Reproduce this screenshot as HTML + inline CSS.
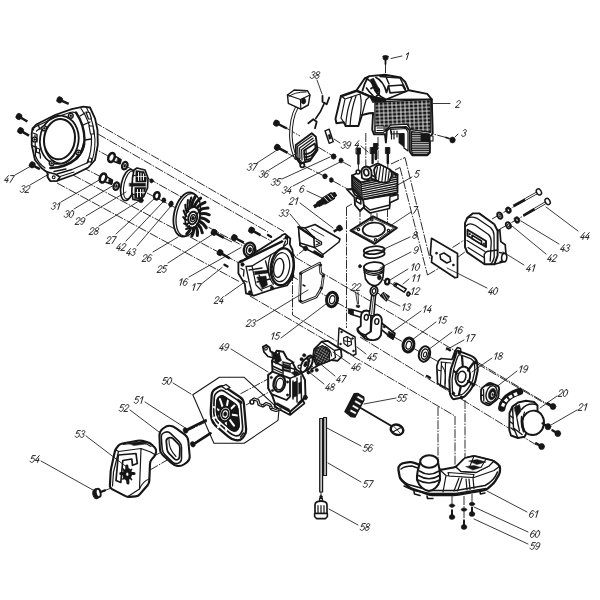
<!DOCTYPE html>
<html><head><meta charset="utf-8"><title>Engine exploded view</title>
<style>
html,body{margin:0;padding:0;background:#fff;}
body{width:600px;height:600px;overflow:hidden;font-family:"Liberation Sans",sans-serif;}
svg{display:block;}
svg text{font-family:"Liberation Sans",sans-serif;font-style:italic;fill:#262626;}
</style></head><body>
<svg width="600" height="600" viewBox="0 0 600 600" stroke-linecap="round" stroke-linejoin="round">
<rect x="0" y="0" width="600" height="600" fill="#ffffff"/>
<line x1="94.0" y1="122.0" x2="284.0" y2="231.5" stroke="#161616" stroke-width="0.9" stroke-dasharray="9 1.3 1.6 1.3" stroke-linecap="butt"/>
<line x1="98.0" y1="134.0" x2="268.0" y2="232.0" stroke="#161616" stroke-width="0.9" stroke-dasharray="9 1.3 1.6 1.3" stroke-linecap="butt"/>
<line x1="295.0" y1="257.0" x2="551.0" y2="407.0" stroke="#161616" stroke-width="0.9" stroke-dasharray="9 1.3 1.6 1.3" stroke-linecap="butt"/>
<line x1="90.0" y1="146.0" x2="186.0" y2="199.5" stroke="#161616" stroke-width="0.9" stroke-dasharray="9 1.3 1.6 1.3" stroke-linecap="butt"/>
<line x1="82.0" y1="167.0" x2="128.0" y2="191.0" stroke="#161616" stroke-width="0.9" stroke-dasharray="9 1.3 1.6 1.3" stroke-linecap="butt"/>
<line x1="147.0" y1="193.0" x2="176.0" y2="208.0" stroke="#161616" stroke-width="0.9" stroke-dasharray="9 1.3 1.6 1.3" stroke-linecap="butt"/>
<line x1="197.0" y1="221.0" x2="245.0" y2="247.0" stroke="#161616" stroke-width="0.9" stroke-dasharray="9 1.3 1.6 1.3" stroke-linecap="butt"/>
<line x1="254.0" y1="252.0" x2="274.0" y2="263.0" stroke="#161616" stroke-width="0.9" stroke-dasharray="9 1.3 1.6 1.3" stroke-linecap="butt"/>
<line x1="290.0" y1="275.0" x2="326.0" y2="296.0" stroke="#161616" stroke-width="0.9" stroke-dasharray="9 1.3 1.6 1.3" stroke-linecap="butt"/>
<line x1="336.0" y1="302.0" x2="350.0" y2="310.0" stroke="#161616" stroke-width="0.9" stroke-dasharray="9 1.3 1.6 1.3" stroke-linecap="butt"/>
<line x1="394.0" y1="337.0" x2="404.0" y2="342.5" stroke="#161616" stroke-width="0.9" stroke-dasharray="9 1.3 1.6 1.3" stroke-linecap="butt"/>
<line x1="413.0" y1="348.0" x2="420.0" y2="352.0" stroke="#161616" stroke-width="0.9" stroke-dasharray="9 1.3 1.6 1.3" stroke-linecap="butt"/>
<line x1="430.0" y1="357.0" x2="458.0" y2="373.0" stroke="#161616" stroke-width="0.9" stroke-dasharray="9 1.3 1.6 1.3" stroke-linecap="butt"/>
<line x1="470.0" y1="381.0" x2="484.0" y2="389.5" stroke="#161616" stroke-width="0.9" stroke-dasharray="9 1.3 1.6 1.3" stroke-linecap="butt"/>
<line x1="497.0" y1="397.0" x2="506.0" y2="402.5" stroke="#161616" stroke-width="0.9" stroke-dasharray="9 1.3 1.6 1.3" stroke-linecap="butt"/>
<line x1="57.0" y1="183.0" x2="240.0" y2="282.0" stroke="#161616" stroke-width="0.9" stroke-dasharray="9 1.3 1.6 1.3" stroke-linecap="butt"/>
<line x1="73.0" y1="175.0" x2="240.0" y2="263.5" stroke="#161616" stroke-width="0.9" stroke-dasharray="9 1.3 1.6 1.3" stroke-linecap="butt"/>
<line x1="224.0" y1="238.0" x2="233.0" y2="242.5" stroke="#161616" stroke-width="0.9" stroke-dasharray="9 1.3 1.6 1.3" stroke-linecap="butt"/>
<line x1="243.0" y1="243.0" x2="262.0" y2="253.0" stroke="#161616" stroke-width="0.9" stroke-dasharray="9 1.3 1.6 1.3" stroke-linecap="butt"/>
<line x1="259.0" y1="234.5" x2="281.0" y2="246.0" stroke="#161616" stroke-width="0.9" stroke-dasharray="9 1.3 1.6 1.3" stroke-linecap="butt"/>
<line x1="250.0" y1="296.0" x2="455.0" y2="416.0" stroke="#161616" stroke-width="0.9" stroke-dasharray="9 1.3 1.6 1.3" stroke-linecap="butt"/>
<line x1="438.0" y1="407.0" x2="438.0" y2="461.0" stroke="#161616" stroke-width="0.9" stroke-dasharray="9 1.3 1.6 1.3" stroke-linecap="butt"/>
<line x1="455.0" y1="416.0" x2="455.0" y2="466.0" stroke="#161616" stroke-width="0.9" stroke-dasharray="9 1.3 1.6 1.3" stroke-linecap="butt"/>
<line x1="465.0" y1="400.0" x2="465.0" y2="459.0" stroke="#161616" stroke-width="0.9" stroke-dasharray="9 1.3 1.6 1.3" stroke-linecap="butt"/>
<line x1="360.0" y1="337.0" x2="538.0" y2="446.0" stroke="#161616" stroke-width="0.9" stroke-dasharray="9 1.3 1.6 1.3" stroke-linecap="butt"/>
<line x1="477.0" y1="362.0" x2="549.0" y2="405.0" stroke="#161616" stroke-width="0.9" stroke-dasharray="9 1.3 1.6 1.3" stroke-linecap="butt"/>
<line x1="520.0" y1="411.0" x2="545.0" y2="425.5" stroke="#161616" stroke-width="0.9" stroke-dasharray="9 1.3 1.6 1.3" stroke-linecap="butt"/>
<line x1="346.5" y1="207.0" x2="346.5" y2="328.0" stroke="#161616" stroke-width="0.9" stroke-dasharray="9 1.3 1.6 1.3" stroke-linecap="butt"/>
<line x1="346.5" y1="207.0" x2="352.0" y2="204.0" stroke="#161616" stroke-width="0.9" stroke-dasharray="9 1.3 1.6 1.3" stroke-linecap="butt"/>
<line x1="358.4" y1="163.0" x2="358.4" y2="176.0" stroke="#161616" stroke-width="0.9" stroke-dasharray="9 1.3 1.6 1.3" stroke-linecap="butt"/>
<line x1="365.8" y1="133.0" x2="365.8" y2="170.0" stroke="#161616" stroke-width="0.9" stroke-dasharray="9 1.3 1.6 1.3" stroke-linecap="butt"/>
<line x1="378.0" y1="137.0" x2="378.0" y2="166.0" stroke="#161616" stroke-width="0.9" stroke-dasharray="9 1.3 1.6 1.3" stroke-linecap="butt"/>
<line x1="387.8" y1="163.0" x2="387.8" y2="172.0" stroke="#161616" stroke-width="0.9" stroke-dasharray="9 1.3 1.6 1.3" stroke-linecap="butt"/>
<line x1="360.0" y1="208.0" x2="360.0" y2="229.0" stroke="#161616" stroke-width="0.9" stroke-dasharray="9 1.3 1.6 1.3" stroke-linecap="butt"/>
<line x1="371.0" y1="213.0" x2="371.0" y2="221.0" stroke="#161616" stroke-width="0.9" stroke-dasharray="9 1.3 1.6 1.3" stroke-linecap="butt"/>
<line x1="377.0" y1="213.0" x2="377.0" y2="237.0" stroke="#161616" stroke-width="0.9" stroke-dasharray="9 1.3 1.6 1.3" stroke-linecap="butt"/>
<line x1="387.5" y1="208.0" x2="387.5" y2="228.0" stroke="#161616" stroke-width="0.9" stroke-dasharray="9 1.3 1.6 1.3" stroke-linecap="butt"/>
<line x1="385.5" y1="64.0" x2="385.5" y2="75.0" stroke="#161616" stroke-width="0.9" stroke-dasharray="9 1.3 1.6 1.3" stroke-linecap="butt"/>
<line x1="446.0" y1="137.5" x2="433.0" y2="134.0" stroke="#161616" stroke-width="0.9" stroke-dasharray="9 1.3 1.6 1.3" stroke-linecap="butt"/>
<line x1="391.0" y1="164.0" x2="405.0" y2="157.5" stroke="#161616" stroke-width="0.9" stroke-dasharray="9 1.3 1.6 1.3" stroke-linecap="butt"/>
<line x1="405.0" y1="157.5" x2="430.0" y2="259.0" stroke="#161616" stroke-width="0.9" stroke-dasharray="9 1.3 1.6 1.3" stroke-linecap="butt"/>
<line x1="395.0" y1="170.0" x2="400.0" y2="167.5" stroke="#161616" stroke-width="0.9" stroke-dasharray="9 1.3 1.6 1.3" stroke-linecap="butt"/>
<line x1="400.0" y1="167.5" x2="427.5" y2="275.0" stroke="#161616" stroke-width="0.9" stroke-dasharray="9 1.3 1.6 1.3" stroke-linecap="butt"/>
<line x1="427.5" y1="275.0" x2="441.0" y2="267.0" stroke="#161616" stroke-width="0.9" stroke-dasharray="9 1.3 1.6 1.3" stroke-linecap="butt"/>
<line x1="452.5" y1="247.5" x2="466.0" y2="239.0" stroke="#161616" stroke-width="0.9" stroke-dasharray="9 1.3 1.6 1.3" stroke-linecap="butt"/>
<line x1="457.5" y1="257.5" x2="469.0" y2="249.0" stroke="#161616" stroke-width="0.9" stroke-dasharray="9 1.3 1.6 1.3" stroke-linecap="butt"/>
<line x1="492.0" y1="219.0" x2="538.0" y2="193.0" stroke="#161616" stroke-width="0.9" stroke-dasharray="9 1.3 1.6 1.3" stroke-linecap="butt"/>
<line x1="500.0" y1="229.0" x2="548.0" y2="202.0" stroke="#161616" stroke-width="0.9" stroke-dasharray="9 1.3 1.6 1.3" stroke-linecap="butt"/>
<line x1="381.5" y1="279.0" x2="385.0" y2="281.0" stroke="#161616" stroke-width="0.9" stroke-dasharray="9 1.3 1.6 1.3" stroke-linecap="butt"/>
<line x1="389.5" y1="282.6" x2="394.0" y2="285.2" stroke="#161616" stroke-width="0.9" stroke-dasharray="9 1.3 1.6 1.3" stroke-linecap="butt"/>
<line x1="377.8" y1="293.0" x2="380.3" y2="294.8" stroke="#161616" stroke-width="0.9" stroke-dasharray="9 1.3 1.6 1.3" stroke-linecap="butt"/>
<line x1="287.0" y1="128.5" x2="300.0" y2="136.0" stroke="#161616" stroke-width="0.9" stroke-dasharray="9 1.3 1.6 1.3" stroke-linecap="butt"/>
<line x1="288.0" y1="153.5" x2="298.0" y2="159.0" stroke="#161616" stroke-width="0.9" stroke-dasharray="9 1.3 1.6 1.3" stroke-linecap="butt"/>
<line x1="318.0" y1="147.0" x2="332.0" y2="155.5" stroke="#161616" stroke-width="0.9" stroke-dasharray="9 1.3 1.6 1.3" stroke-linecap="butt"/>
<line x1="343.0" y1="162.0" x2="352.0" y2="167.0" stroke="#161616" stroke-width="0.9" stroke-dasharray="9 1.3 1.6 1.3" stroke-linecap="butt"/>
<line x1="304.0" y1="166.0" x2="323.0" y2="175.5" stroke="#161616" stroke-width="0.9" stroke-dasharray="9 1.3 1.6 1.3" stroke-linecap="butt"/>
<line x1="333.0" y1="181.0" x2="352.0" y2="191.5" stroke="#161616" stroke-width="0.9" stroke-dasharray="9 1.3 1.6 1.3" stroke-linecap="butt"/>
<line x1="306.0" y1="248.0" x2="295.0" y2="257.0" stroke="#161616" stroke-width="0.9" stroke-dasharray="9 1.3 1.6 1.3" stroke-linecap="butt"/>
<line x1="292.5" y1="272.0" x2="292.5" y2="315.0" stroke="#161616" stroke-width="0.9" stroke-dasharray="9 1.3 1.6 1.3" stroke-linecap="butt"/>
<line x1="292.5" y1="315.0" x2="340.0" y2="343.0" stroke="#161616" stroke-width="0.9" stroke-dasharray="9 1.3 1.6 1.3" stroke-linecap="butt"/>
<line x1="240.5" y1="393.8" x2="268.0" y2="379.0" stroke="#161616" stroke-width="0.9" stroke-dasharray="9 1.3 1.6 1.3" stroke-linecap="butt"/>
<line x1="246.0" y1="405.0" x2="269.0" y2="392.0" stroke="#161616" stroke-width="0.9" stroke-dasharray="9 1.3 1.6 1.3" stroke-linecap="butt"/>
<line x1="207.0" y1="421.5" x2="186.0" y2="431.5" stroke="#161616" stroke-width="0.9" stroke-dasharray="9 1.3 1.6 1.3" stroke-linecap="butt"/>
<line x1="212.0" y1="433.0" x2="193.0" y2="443.5" stroke="#161616" stroke-width="0.9" stroke-dasharray="9 1.3 1.6 1.3" stroke-linecap="butt"/>
<line x1="156.0" y1="455.0" x2="176.0" y2="444.0" stroke="#161616" stroke-width="0.9" stroke-dasharray="9 1.3 1.6 1.3" stroke-linecap="butt"/>
<line x1="150.0" y1="470.0" x2="181.0" y2="452.0" stroke="#161616" stroke-width="0.9" stroke-dasharray="9 1.3 1.6 1.3" stroke-linecap="butt"/>
<line x1="104.5" y1="490.6" x2="110.0" y2="488.5" stroke="#161616" stroke-width="0.9" stroke-dasharray="9 1.3 1.6 1.3" stroke-linecap="butt"/>
<line x1="297.0" y1="376.0" x2="313.0" y2="366.0" stroke="#161616" stroke-width="0.9" stroke-dasharray="9 1.3 1.6 1.3" stroke-linecap="butt"/>
<line x1="452.0" y1="496.0" x2="452.0" y2="511.0" stroke="#161616" stroke-width="0.9" stroke-dasharray="9 1.3 1.6 1.3" stroke-linecap="butt"/>
<line x1="464.0" y1="496.0" x2="464.0" y2="520.0" stroke="#161616" stroke-width="0.9" stroke-dasharray="9 1.3 1.6 1.3" stroke-linecap="butt"/>
<line x1="472.0" y1="494.0" x2="472.0" y2="508.0" stroke="#161616" stroke-width="0.9" stroke-dasharray="9 1.3 1.6 1.3" stroke-linecap="butt"/>
<line x1="321.0" y1="492.0" x2="321.0" y2="496.0" stroke="#161616" stroke-width="0.9" stroke-dasharray="9 1.3 1.6 1.3" stroke-linecap="butt"/>
<path d="M32.5 128.3 L36.7 124.2 L55.0 115.0 L71.7 109.2 L83.3 106.7 L90.0 107.5 L95.0 118.3 L97.5 130.0 L97.8 145.0 L95.0 160.0 L88.3 167.5 L73.3 175.0 L56.7 180.8 L50.0 180.8 L47.5 176.7 L47.5 172.5 L41.7 168.3 L35.0 160.0 L31.7 145.0 L31.7 133.3 Z" fill="white" stroke="#161616" stroke-width="1.80" />
<path d="M76 112.5 Q84.5 125 84.5 140 Q84 152 76.5 158" fill="none" stroke="#161616" stroke-width="2.40" />
<path d="M81 108.5 Q90 121 91.5 137 Q92 152 87 163" fill="none" stroke="#161616" stroke-width="1.20" />
<path d="M86.5 107.5 Q94 122 95 140 Q95 154 91 163" fill="none" stroke="#161616" stroke-width="1.08" />
<path d="M84.5 140 L91.5 139 M83 125 L90 122 M80 116 L85 113" fill="none" stroke="#161616" stroke-width="1.32" />
<path d="M86.0 112.0 L89.5 112.5 L91.5 119.0 L88.5 119.0 Z" fill="white" stroke="#161616" stroke-width="1.20" />
<path d="M89.0 126.0 L93.0 126.0 L94.0 134.0 L90.5 134.0 Z" fill="white" stroke="#161616" stroke-width="1.20" />
<path d="M33.5 130 Q33 128 36 126.5 L55 117.5 L70 112.5 Q76 111 78 116" fill="none" stroke="#161616" stroke-width="1.20" />
<path d="M35 135 L35.5 156 Q38 163 45 168 M36.5 131 Q40 128 44 126" fill="none" stroke="#161616" stroke-width="1.20" />
<ellipse cx="59.3" cy="139.8" rx="19.3" ry="24.2" transform="rotate(8 59.3 139.8)" fill="none" stroke="#161616" stroke-width="1.80"/>
<ellipse cx="59.5" cy="139.2" rx="15.4" ry="20.2" transform="rotate(8 59.5 139.2)" fill="white" stroke="#161616" stroke-width="2.04"/>
<path d="M45 150 Q50 163 62 163.5 Q72 162 77 150" fill="none" stroke="#161616" stroke-width="1.08" />
<path d="M50.5 168 Q66 167.5 76.5 158.5 Q82.5 152 84 144" fill="none" stroke="#161616" stroke-width="2.64" />
<path d="M57 174 L72 169.5 L88 162.5 M54 171.5 L66 169" fill="none" stroke="#161616" stroke-width="1.32" />
<path d="M60 176.5 L74 172" fill="none" stroke="#161616" stroke-width="1.08" />
<ellipse cx="44.2" cy="128.3" rx="2.4" ry="2.4" transform="rotate(0 44.2 128.3)" fill="white" stroke="#161616" stroke-width="1.44"/>
<ellipse cx="44.2" cy="128.3" rx="1.0" ry="1.0" transform="rotate(0 44.2 128.3)" fill="#161616" stroke="#161616" stroke-width="0.48"/>
<ellipse cx="70.8" cy="115.8" rx="2.4" ry="2.4" transform="rotate(0 70.8 115.8)" fill="white" stroke="#161616" stroke-width="1.44"/>
<ellipse cx="70.8" cy="115.8" rx="1.0" ry="1.0" transform="rotate(0 70.8 115.8)" fill="#161616" stroke="#161616" stroke-width="0.48"/>
<ellipse cx="78.3" cy="152.5" rx="2.4" ry="2.4" transform="rotate(0 78.3 152.5)" fill="white" stroke="#161616" stroke-width="1.44"/>
<ellipse cx="78.3" cy="152.5" rx="1.0" ry="1.0" transform="rotate(0 78.3 152.5)" fill="#161616" stroke="#161616" stroke-width="0.48"/>
<ellipse cx="51.7" cy="163.3" rx="2.4" ry="2.4" transform="rotate(0 51.7 163.3)" fill="white" stroke="#161616" stroke-width="1.44"/>
<ellipse cx="51.7" cy="163.3" rx="1.0" ry="1.0" transform="rotate(0 51.7 163.3)" fill="#161616" stroke="#161616" stroke-width="0.48"/>
<ellipse cx="34.5" cy="139.5" rx="2.4" ry="2.4" transform="rotate(0 34.5 139.5)" fill="white" stroke="#161616" stroke-width="1.44"/>
<ellipse cx="34.5" cy="139.5" rx="1.0" ry="1.0" transform="rotate(0 34.5 139.5)" fill="#161616" stroke="#161616" stroke-width="0.48"/>
<ellipse cx="90.0" cy="160.0" rx="1.8" ry="2.0" transform="rotate(0 90.0 160.0)" fill="white" stroke="#161616" stroke-width="1.20"/>
<path d="M33 133 L37 134.5 L37 142 M32.5 146 L36.5 147 M36 152 L40 153.5 L40.5 158 M38 124.5 L40 129.5" fill="none" stroke="#161616" stroke-width="1.32" />
<path d="M36.5 148.0 L39.5 149.0 L39.5 153.0 L36.5 152.0 Z" fill="white" stroke="#161616" stroke-width="1.08" />
<path d="M47.5 172.0 L48.0 177.5 L50.5 181.0 L57.0 181.0 L60.0 177.0 L55.0 174.0 Z" fill="white" stroke="#161616" stroke-width="1.56" />
<ellipse cx="53.7" cy="177.3" rx="1.4" ry="1.4" transform="rotate(0 53.7 177.3)" fill="none" stroke="#161616" stroke-width="1.08"/>
<line x1="61.4" y1="100.6" x2="68.7" y2="103.9" stroke="#161616" stroke-width="2.5" stroke-linecap="butt"/>
<ellipse cx="60.0" cy="100.0" rx="2.6" ry="3.1" transform="rotate(24 60.0 100.0)" fill="#161616" stroke="#161616" stroke-width="0.72"/>
<ellipse cx="58.5" cy="99.3" rx="1.6" ry="2.9" transform="rotate(24 58.5 99.3)" fill="#161616" stroke="#161616" stroke-width="0.48"/>
<line x1="20.5" y1="117.5" x2="27.4" y2="121.5" stroke="#161616" stroke-width="2.5" stroke-linecap="butt"/>
<ellipse cx="19.2" cy="116.7" rx="2.6" ry="3.1" transform="rotate(30 19.2 116.7)" fill="#161616" stroke="#161616" stroke-width="0.72"/>
<ellipse cx="17.8" cy="115.9" rx="1.6" ry="2.9" transform="rotate(30 17.8 115.9)" fill="#161616" stroke="#161616" stroke-width="0.48"/>
<line x1="22.1" y1="131.6" x2="29.0" y2="135.6" stroke="#161616" stroke-width="2.5" stroke-linecap="butt"/>
<ellipse cx="20.8" cy="130.8" rx="2.6" ry="3.1" transform="rotate(30 20.8 130.8)" fill="#161616" stroke="#161616" stroke-width="0.72"/>
<ellipse cx="19.4" cy="130.0" rx="1.6" ry="2.9" transform="rotate(30 19.4 130.0)" fill="#161616" stroke="#161616" stroke-width="0.48"/>
<line x1="33.8" y1="165.8" x2="39.9" y2="169.2" stroke="#161616" stroke-width="2.5" stroke-linecap="butt"/>
<ellipse cx="32.5" cy="165.0" rx="2.6" ry="3.1" transform="rotate(30 32.5 165.0)" fill="#161616" stroke="#161616" stroke-width="0.72"/>
<ellipse cx="31.1" cy="164.2" rx="1.6" ry="2.9" transform="rotate(30 31.1 164.2)" fill="#161616" stroke="#161616" stroke-width="0.48"/>
<path d="M113.0 154.9 L121.0 159.7 L120.0 163.7 L112.0 160.7 Z" fill="white" stroke="#161616" stroke-width="1.56" />
<path d="M118.0 158.1 L121.0 159.7 L120.0 163.7 L116.8 162.3 Z" fill="#161616" stroke="#161616" stroke-width="0.60" />
<ellipse cx="111.5" cy="157.5" rx="3.0" ry="4.6" transform="rotate(22 111.5 157.5)" fill="white" stroke="#161616" stroke-width="2.64"/>
<ellipse cx="124.8" cy="165.7" rx="2.6" ry="3.8" transform="rotate(20 124.8 165.7)" fill="white" stroke="#161616" stroke-width="2.28"/>
<ellipse cx="124.8" cy="165.7" rx="0.9" ry="1.7" transform="rotate(20 124.8 165.7)" fill="#161616" stroke="#161616" stroke-width="0.36"/>
<path d="M104.5 175.4 L112.5 180.2 L111.5 184.2 L103.5 181.2 Z" fill="white" stroke="#161616" stroke-width="1.56" />
<path d="M109.5 178.6 L112.5 180.2 L111.5 184.2 L108.3 182.8 Z" fill="#161616" stroke="#161616" stroke-width="0.60" />
<ellipse cx="103.0" cy="178.0" rx="3.0" ry="4.6" transform="rotate(22 103.0 178.0)" fill="white" stroke="#161616" stroke-width="2.64"/>
<ellipse cx="116.3" cy="186.2" rx="2.6" ry="3.8" transform="rotate(20 116.3 186.2)" fill="white" stroke="#161616" stroke-width="2.28"/>
<ellipse cx="116.3" cy="186.2" rx="0.9" ry="1.7" transform="rotate(20 116.3 186.2)" fill="#161616" stroke="#161616" stroke-width="0.36"/>
<ellipse cx="128.0" cy="185.0" rx="6.8" ry="15.8" transform="rotate(12 128.0 185.0)" fill="white" stroke="#161616" stroke-width="1.68"/>
<ellipse cx="129.6" cy="185.0" rx="5.6" ry="14.2" transform="rotate(12 129.6 185.0)" fill="none" stroke="#161616" stroke-width="1.08"/>
<path d="M134.0 170.0 L137.0 168.0 L145.0 170.0 L148.0 178.0 L147.5 188.0 L144.0 196.0 L139.0 200.3 L133.0 199.5 L131.8 192.0 L132.5 178.0 Z" fill="white" stroke="#161616" stroke-width="1.68" />
<path d="M136.0 170.5 L144.0 171.5 L146.5 178.0 L146.0 182.0 L136.0 182.0 Z" fill="#161616" stroke="#161616" stroke-width="0.48" />
<path d="M135.0 187.5 L146.0 187.5 L143.5 195.5 L139.0 199.0 L134.5 198.5 Z" fill="#161616" stroke="#161616" stroke-width="0.48" />
<path d="M129.5 183.2 L145.5 183.2 L145.5 186.2 L129.5 186.2 Z" fill="#161616" stroke="#161616" stroke-width="0.48" />
<path d="M138.5 172.5 V180.5 M141 173 V180.5 M143.5 174 V180" fill="none" stroke="#fff" stroke-width="0.96" />
<path d="M137.5 189.5 V197 M140.5 189.5 V196.5 M143 189.5 V194" fill="none" stroke="#fff" stroke-width="0.96" />
<path d="M137 176.5 H146 M136 192.5 H144.5" fill="none" stroke="#fff" stroke-width="0.72" />
<path d="M133 176 L136 175 M132.5 194 L135 195" fill="none" stroke="#161616" stroke-width="1.20" />
<ellipse cx="141.0" cy="200.3" rx="2.3" ry="2.5" transform="rotate(0 141.0 200.3)" fill="#161616" stroke="#161616" stroke-width="0.60"/>
<ellipse cx="151.5" cy="180.8" rx="1.8" ry="2.1" transform="rotate(0 151.5 180.8)" fill="#161616" stroke="#161616" stroke-width="0.60"/>
<ellipse cx="156.8" cy="195.8" rx="2.7" ry="3.7" transform="rotate(15 156.8 195.8)" fill="white" stroke="#161616" stroke-width="2.52"/>
<ellipse cx="163.8" cy="200.2" rx="2.0" ry="2.4" transform="rotate(0 163.8 200.2)" fill="#161616" stroke="#161616" stroke-width="0.60"/>
<ellipse cx="171.0" cy="204.0" rx="2.1" ry="3.0" transform="rotate(15 171.0 204.0)" fill="#161616" stroke="#161616" stroke-width="0.60"/>
<ellipse cx="186.3" cy="214.5" rx="12.2" ry="22.5" transform="rotate(13 186.3 214.5)" fill="white" stroke="#161616" stroke-width="1.80"/>
<ellipse cx="188.3" cy="214.8" rx="11.6" ry="21.6" transform="rotate(13 188.3 214.8)" fill="white" stroke="#161616" stroke-width="1.32"/>
<path d="M191.7 206.1 Q192.0 201.3 195.5 196.1" fill="none" stroke="#161616" stroke-width="3.00" />
<path d="M194.4 206.3 Q196.0 201.8 200.7 198.1" fill="none" stroke="#161616" stroke-width="3.00" />
<path d="M197.0 207.9 Q199.7 204.2 205.0 202.3" fill="none" stroke="#161616" stroke-width="3.00" />
<path d="M199.0 210.5 Q202.6 208.0 208.0 208.1" fill="none" stroke="#161616" stroke-width="3.00" />
<path d="M200.2 214.0 Q204.3 212.9 209.3 214.8" fill="none" stroke="#161616" stroke-width="3.00" />
<path d="M200.5 217.8 Q204.7 218.1 208.6 221.7" fill="none" stroke="#161616" stroke-width="3.00" />
<path d="M199.8 221.5 Q203.7 223.2 206.2 227.9" fill="none" stroke="#161616" stroke-width="3.00" />
<path d="M198.3 224.6 Q201.4 227.5 202.3 232.7" fill="none" stroke="#161616" stroke-width="3.00" />
<path d="M196.0 226.9 Q198.1 230.5 197.3 235.5" fill="none" stroke="#161616" stroke-width="3.00" />
<path d="M193.3 227.9 Q194.2 231.7 191.9 235.9" fill="none" stroke="#161616" stroke-width="3.00" />
<path d="M190.6 227.7 Q190.2 231.2 186.7 233.9" fill="none" stroke="#161616" stroke-width="3.00" />
<path d="M189.1 226.1 Q188.9 228.5 186.1 229.1" fill="none" stroke="#161616" stroke-width="2.04" />
<path d="M187.6 223.5 Q186.8 224.8 184.1 223.5" fill="none" stroke="#161616" stroke-width="2.04" />
<path d="M186.7 220.0 Q185.4 220.1 183.2 217.1" fill="none" stroke="#161616" stroke-width="2.04" />
<path d="M186.5 216.2 Q185.0 215.0 183.6 210.6" fill="none" stroke="#161616" stroke-width="2.04" />
<path d="M187.0 212.5 Q185.5 210.1 185.3 204.7" fill="none" stroke="#161616" stroke-width="2.04" />
<path d="M188.2 209.4 Q186.9 205.9 187.9 200.1" fill="none" stroke="#161616" stroke-width="2.04" />
<path d="M189.9 207.1 Q189.1 203.0 191.3 197.5" fill="none" stroke="#161616" stroke-width="2.04" />
<ellipse cx="192.6" cy="217.6" rx="7.4" ry="10.6" transform="rotate(13 192.6 217.6)" fill="none" stroke="#161616" stroke-width="1.56"/>
<ellipse cx="192.7" cy="218.0" rx="4.4" ry="6.4" transform="rotate(13 192.7 218.0)" fill="white" stroke="#161616" stroke-width="1.92"/>
<ellipse cx="192.9" cy="218.2" rx="2.4" ry="3.6" transform="rotate(13 192.9 218.2)" fill="white" stroke="#161616" stroke-width="1.20"/>
<ellipse cx="192.9" cy="218.2" rx="1.3" ry="1.9" transform="rotate(13 192.9 218.2)" fill="#161616" stroke="#161616" stroke-width="0.60"/>
<path d="M189 212 L186.5 209 M197 214 L199.5 211 M196.5 224 L199 227 M188.5 223 L186 226" fill="none" stroke="#161616" stroke-width="1.20" />
<line x1="215.7" y1="233.3" x2="223.9" y2="237.8" stroke="#161616" stroke-width="2.5" stroke-linecap="butt"/>
<ellipse cx="214.3" cy="232.5" rx="2.6" ry="3.1" transform="rotate(29 214.3 232.5)" fill="#161616" stroke="#161616" stroke-width="0.72"/>
<ellipse cx="212.9" cy="231.7" rx="1.6" ry="2.9" transform="rotate(29 212.9 231.7)" fill="#161616" stroke="#161616" stroke-width="0.48"/>
<line x1="235.9" y1="238.5" x2="243.8" y2="242.7" stroke="#161616" stroke-width="2.5" stroke-linecap="butt"/>
<ellipse cx="234.5" cy="237.8" rx="2.6" ry="3.1" transform="rotate(28 234.5 237.8)" fill="#161616" stroke="#161616" stroke-width="0.72"/>
<ellipse cx="233.1" cy="237.0" rx="1.6" ry="2.9" transform="rotate(28 233.1 237.0)" fill="#161616" stroke="#161616" stroke-width="0.48"/>
<line x1="221.6" y1="253.6" x2="229.8" y2="258.3" stroke="#161616" stroke-width="2.5" stroke-linecap="butt"/>
<ellipse cx="220.3" cy="252.8" rx="2.6" ry="3.1" transform="rotate(30 220.3 252.8)" fill="#161616" stroke="#161616" stroke-width="0.72"/>
<ellipse cx="218.9" cy="252.0" rx="1.6" ry="2.9" transform="rotate(30 218.9 252.0)" fill="#161616" stroke="#161616" stroke-width="0.48"/>
<line x1="253.2" y1="231.1" x2="260.5" y2="235.1" stroke="#161616" stroke-width="2.5" stroke-linecap="butt"/>
<ellipse cx="251.8" cy="230.3" rx="2.6" ry="3.1" transform="rotate(29 251.8 230.3)" fill="#161616" stroke="#161616" stroke-width="0.72"/>
<ellipse cx="250.4" cy="229.5" rx="1.6" ry="2.9" transform="rotate(29 250.4 229.5)" fill="#161616" stroke="#161616" stroke-width="0.48"/>
<path d="M268 235 L271 236.8" fill="none" stroke="#161616" stroke-width="2.40" />
<path d="M224.5 264.8 L227.5 266.5" fill="none" stroke="#161616" stroke-width="2.40" />
<ellipse cx="249.5" cy="249.7" rx="5.6" ry="7.2" transform="rotate(12 249.5 249.7)" fill="white" stroke="#161616" stroke-width="2.28"/>
<ellipse cx="249.8" cy="249.9" rx="3.4" ry="4.8" transform="rotate(12 249.8 249.9)" fill="white" stroke="#161616" stroke-width="1.56"/>
<ellipse cx="250.0" cy="250.0" rx="1.6" ry="2.5" transform="rotate(12 250.0 250.0)" fill="#161616" stroke="#161616" stroke-width="0.48"/>
<path d="M238.4 263.0 L240.5 260.8 L243.5 260.0 L281.0 236.2 L282.3 235.0 L285.0 233.8 L290.3 238.5 L289.8 244.3 L292.5 250.0 L294.2 266.0 L292.5 278.0 L287.0 285.5 L274.9 288.5 L253.8 295.7 L246.0 293.3 L244.8 284.0 L238.4 273.5 Z" fill="white" stroke="#161616" stroke-width="1.80" />
<line x1="240.2" y1="262.0" x2="282.2" y2="241.4" stroke="#161616" stroke-width="2.4" />
<path d="M246 266.5 L252 266 L283 247.5 L285.5 241 M246 266.5 L249 281 L252.5 295" fill="none" stroke="#161616" stroke-width="1.32" />
<path d="M252 266 L256 285 L262 291" fill="none" stroke="#161616" stroke-width="1.20" />
<path d="M283.5 239 L287.5 238 L287.5 243.5 L284.5 246" fill="none" stroke="#161616" stroke-width="1.20" />
<ellipse cx="282.2" cy="266.8" rx="11.3" ry="18.6" transform="rotate(8 282.2 266.8)" fill="white" stroke="#161616" stroke-width="2.40"/>
<ellipse cx="281.0" cy="267.2" rx="8.6" ry="14.6" transform="rotate(8 281.0 267.2)" fill="white" stroke="#161616" stroke-width="1.20"/>
<ellipse cx="278.7" cy="267.9" rx="5.0" ry="9.6" transform="rotate(8 278.7 267.9)" fill="white" stroke="#161616" stroke-width="1.44"/>
<path d="M271 255 Q267.5 262 268.5 272 Q270 281 273.5 284" fill="none" stroke="#161616" stroke-width="1.20" />
<path d="M254.5 271.5 L268.0 270.0 L268.0 273.0 L254.5 274.7 Z" fill="#161616" stroke="#161616" stroke-width="0.48" />
<path d="M257.0 277.0 L266.0 276.0 L267.5 285.0 L262.0 288.5 Z" fill="#161616" stroke="#161616" stroke-width="0.48" />
<path d="M249 270 L262 268 M257 282 L270 279 M262 289 L272 285 M265.5 261 L269.5 276 M259 275 L264 284" fill="none" stroke="#161616" stroke-width="1.32" />
<path d="M241 268.5 L244 270 L243.5 276 M244 280.5 L247 282" fill="none" stroke="#161616" stroke-width="1.32" />
<ellipse cx="242.5" cy="264.5" rx="1.7" ry="1.9" transform="rotate(0 242.5 264.5)" fill="#161616" stroke="#161616" stroke-width="0.48"/>
<ellipse cx="250.0" cy="292.5" rx="1.7" ry="1.9" transform="rotate(0 250.0 292.5)" fill="#161616" stroke="#161616" stroke-width="0.48"/>
<ellipse cx="286.5" cy="237.5" rx="1.7" ry="1.9" transform="rotate(0 286.5 237.5)" fill="#161616" stroke="#161616" stroke-width="0.48"/>
<ellipse cx="292.8" cy="255.5" rx="1.7" ry="1.9" transform="rotate(0 292.8 255.5)" fill="#161616" stroke="#161616" stroke-width="0.48"/>
<ellipse cx="292.3" cy="276.0" rx="1.7" ry="1.9" transform="rotate(0 292.3 276.0)" fill="#161616" stroke="#161616" stroke-width="0.48"/>
<ellipse cx="272.0" cy="288.0" rx="1.7" ry="1.9" transform="rotate(0 272.0 288.0)" fill="#161616" stroke="#161616" stroke-width="0.48"/>
<path d="M300.6 273.2 L319.8 263.1 L320.8 273.2 L323.5 275.0 L321.7 287.8 L316.2 297.0 L302.4 302.5 L299.7 300.7 Z" fill="white" stroke="#161616" stroke-width="2.64" />
<path d="M300.6 273.2 L319.8 263.1 L320.8 273.2 L323.5 275.0 L321.7 287.8 L316.2 297.0 L302.4 302.5 L299.7 300.7 Z" fill="none" stroke="#fff" stroke-width="0.84" />
<ellipse cx="300.8" cy="273.5" rx="1.2" ry="1.2" transform="rotate(0 300.8 273.5)" fill="#161616" stroke="#161616" stroke-width="0.48"/>
<ellipse cx="320.5" cy="265.0" rx="1.2" ry="1.2" transform="rotate(0 320.5 265.0)" fill="#161616" stroke="#161616" stroke-width="0.48"/>
<ellipse cx="323.0" cy="276.0" rx="1.2" ry="1.2" transform="rotate(0 323.0 276.0)" fill="#161616" stroke="#161616" stroke-width="0.48"/>
<ellipse cx="300.5" cy="301.0" rx="1.2" ry="1.2" transform="rotate(0 300.5 301.0)" fill="#161616" stroke="#161616" stroke-width="0.48"/>
<ellipse cx="321.0" cy="288.0" rx="1.2" ry="1.2" transform="rotate(0 321.0 288.0)" fill="#161616" stroke="#161616" stroke-width="0.48"/>
<path d="M303 285 l2 1" fill="none" stroke="#161616" stroke-width="1.44" />
<ellipse cx="332.0" cy="299.5" rx="5.4" ry="7.2" transform="rotate(12 332.0 299.5)" fill="white" stroke="#161616" stroke-width="3.00"/>
<ellipse cx="332.2" cy="299.7" rx="2.6" ry="4.1" transform="rotate(12 332.2 299.7)" fill="white" stroke="#161616" stroke-width="1.20"/>
<path d="M298.5 227.0 L305.0 228.0 L315.0 224.5 L340.0 239.0 L339.0 242.0 L323.0 254.5 L322.0 257.3 L300.0 245.5 Z" fill="white" stroke="#161616" stroke-width="1.56" />
<path d="M298.5 227.0 L314.0 237.5 L314.5 247.5 L300.0 243.0 Z" fill="white" stroke="#161616" stroke-width="1.44" />
<line x1="298.5" y1="227.0" x2="314.0" y2="237.5" stroke="#161616" stroke-width="2.4" />
<path d="M314.0 237.5 L321.5 242.0 L321.5 244.5 L314.5 247.5 Z" fill="white" stroke="#161616" stroke-width="1.32" />
<path d="M316 241 L320 243.2 L316 245" fill="none" stroke="#161616" stroke-width="1.08" />
<path d="M305 228 L314 237.5 M300 243 L300 245.5 M314.5 247.5 L323 254.5" fill="none" stroke="#161616" stroke-width="1.20" />
<line x1="314.5" y1="251.5" x2="322.5" y2="256.5" stroke="#161616" stroke-width="2.6" />
<line x1="311.5" y1="229.0" x2="324.0" y2="236.0" stroke="#161616" stroke-width="0.9" />
<line x1="338.0" y1="229.0" x2="333.7" y2="231.6" stroke="#161616" stroke-width="2.5" stroke-linecap="butt"/>
<ellipse cx="339.3" cy="228.3" rx="2.5" ry="2.9" transform="rotate(150 339.3 228.3)" fill="#161616" stroke="#161616" stroke-width="0.72"/>
<ellipse cx="340.7" cy="227.5" rx="1.4" ry="2.8" transform="rotate(150 340.7 227.5)" fill="#161616" stroke="#161616" stroke-width="0.48"/>
<ellipse cx="305.5" cy="248.5" rx="2.3" ry="2.4" transform="rotate(0 305.5 248.5)" fill="#161616" stroke="#161616" stroke-width="0.48"/>
<path d="M296.5 108 Q291 118 290.8 136 Q291.5 150 296 158" fill="none" stroke="#161616" stroke-width="3.60" />
<path d="M296.5 108 Q291 118 290.8 136 Q291.5 150 296 158" fill="none" stroke="#fff" stroke-width="1.56" />
<path d="M287.5 95.0 L294.2 90.0 L307.5 90.8 L310.0 95.0 L308.3 105.0 L300.8 109.2 L288.3 103.3 Z" fill="white" stroke="#161616" stroke-width="1.44" />
<path d="M287.5 95 L300.5 99.5 L310 95 M300.5 99.5 L300.8 109.2" fill="none" stroke="#161616" stroke-width="1.20" />
<ellipse cx="303.5" cy="101.0" rx="2.2" ry="3.0" transform="rotate(0 303.5 101.0)" fill="#161616" stroke="#161616" stroke-width="0.60"/>
<path d="M289 96.5 Q294 92 306 92" fill="none" stroke="#161616" stroke-width="0.96" />
<path d="M295.8 145.0 L311.7 133.3 L315.8 136.7 L317.5 150.0 L310.0 160.8 L300.8 163.3 L295.8 156.7 Z" fill="white" stroke="#161616" stroke-width="1.92" />
<path d="M297.6 146.2 L312 136 M297.6 146.2 L298 157.5 L301.5 162 M299.6 148 L313 138.2 M299.6 148 L300 158.5 M301.6 149.8 L314 140.2 M301.6 149.8 L302 160" fill="none" stroke="#161616" stroke-width="1.20" />
<path d="M304.0 150.5 L314.8 143.5 L316.3 151.0 L311.0 158.5 L304.8 160.3 Z" fill="white" stroke="#161616" stroke-width="1.68" />
<path d="M304.3 154 Q310 155 315.8 147.5 M304.5 157 Q310.5 158 316 150.5" fill="none" stroke="#161616" stroke-width="1.80" />
<path d="M306 150 L306.5 159.5" fill="none" stroke="#161616" stroke-width="1.20" />
<ellipse cx="302.3" cy="165.2" rx="2.1" ry="2.1" transform="rotate(0 302.3 165.2)" fill="white" stroke="#161616" stroke-width="1.80"/>
<path d="M296 158 L300.5 164" fill="none" stroke="#161616" stroke-width="1.92" />
<line x1="278.1" y1="124.0" x2="286.9" y2="128.5" stroke="#161616" stroke-width="2.5" stroke-linecap="butt"/>
<ellipse cx="276.7" cy="123.3" rx="2.6" ry="3.1" transform="rotate(27 276.7 123.3)" fill="#161616" stroke="#161616" stroke-width="0.72"/>
<ellipse cx="275.3" cy="122.6" rx="1.6" ry="2.9" transform="rotate(27 275.3 122.6)" fill="#161616" stroke="#161616" stroke-width="0.48"/>
<line x1="278.9" y1="148.2" x2="287.7" y2="152.9" stroke="#161616" stroke-width="2.5" stroke-linecap="butt"/>
<ellipse cx="277.5" cy="147.5" rx="2.6" ry="3.1" transform="rotate(28 277.5 147.5)" fill="#161616" stroke="#161616" stroke-width="0.72"/>
<ellipse cx="276.1" cy="146.7" rx="1.6" ry="2.9" transform="rotate(28 276.1 146.7)" fill="#161616" stroke="#161616" stroke-width="0.48"/>
<ellipse cx="333.6" cy="156.5" rx="2.5" ry="2.8" transform="rotate(0 333.6 156.5)" fill="#161616" stroke="#161616" stroke-width="0.48"/>
<ellipse cx="341.0" cy="160.5" rx="2.1" ry="2.6" transform="rotate(0 341.0 160.5)" fill="#161616" stroke="#161616" stroke-width="0.48"/>
<ellipse cx="325.0" cy="176.3" rx="2.3" ry="2.6" transform="rotate(0 325.0 176.3)" fill="#161616" stroke="#161616" stroke-width="0.48"/>
<ellipse cx="331.3" cy="180.0" rx="2.0" ry="2.5" transform="rotate(0 331.3 180.0)" fill="#161616" stroke="#161616" stroke-width="0.48"/>
<path d="M322.5 95.8 L322.5 101.7 L326.7 104.2 L329.2 97.5" fill="none" stroke="#161616" stroke-width="1.80" />
<path d="M324.3 103.3 Q321 112 315.8 118.5" fill="none" stroke="#161616" stroke-width="1.68" />
<path d="M308.3 123.3 L313.3 119.2 L316.7 121.7 L315 128.3" fill="none" stroke="#161616" stroke-width="1.80" />
<path d="M325.0 130.8 L329.2 129.2 L333.3 141.7 L329.2 143.3 Z" fill="white" stroke="#161616" stroke-width="1.44" />
<path d="M328.0 135.0 L330.0 134.3 L331.3 138.5 L329.3 139.2 Z" fill="#161616" stroke="#161616" stroke-width="0.48" />
<g transform="translate(325 200.3) rotate(-30.7)">
<path d="M-12.5 -1.3 L-8.5 -1.5 L-8.0 -2.4 L-2.5 -2.6 L-1.5 -3.4 L9.0 -3.4 L10.0 -2.2 L12.5 -1.8 L12.5 1.8 L10.0 2.2 L9.0 3.4 L-1.5 3.4 L-2.5 2.6 L-8.0 2.4 L-8.5 1.5 L-12.5 1.3 Z" fill="#161616" stroke="#161616" stroke-width="0.96" />
<path d="M1 -2.6 L2 2.4 M4.6 -2.6 L5.6 2.4 M8 -2.4 L8.6 1.6" fill="none" stroke="#fff" stroke-width="0.84" />
</g>
<path d="M341.0 95.8 L356.6 90.3 L364.8 78.3 L369.4 76.1 L385.0 74.7 L400.6 77.4 L405.2 82.0 L408.8 90.3 L427.2 93.9 L431.8 99.4 L432.7 133.3 L429.9 137.0 L429.9 152.6 L427.2 155.3 L412.5 155.3 L409.8 151.7 L409.8 130.6 L406.0 126.9 L390.5 127.8 L386.8 130.6 L385.9 142.5 L385.0 134.3 L374.0 134.3 L372.2 129.7 L373.1 113.0 L369.4 113.2 L362.0 115.0 L358.4 126.0 L345.6 126.0 L343.8 122.3 L336.4 123.3 L335.5 118.7 Z" fill="white" stroke="#161616" stroke-width="1.92" />
<defs><pattern id="gr" width="4.3" height="3.7" patternUnits="userSpaceOnUse" patternTransform="rotate(-2.5)"><rect width="4.3" height="3.7" fill="#fff"/><rect x="0.4" y="0.4" width="3.5" height="2.95" fill="#161616"/></pattern><pattern id="hh" width="3" height="2.3" patternUnits="userSpaceOnUse"><rect width="3" height="2.3" fill="#fff"/><rect x="0" y="0.3" width="3" height="1.45" fill="#161616"/></pattern></defs>
<path d="M374.9 102.2 L430.8 99.4 L430.8 132.4 L410.7 129.7 L407.0 124.2 L390.5 125.1 L385.0 131.5 L374.9 132.4 Z" fill="url(#gr)" stroke="#161616" stroke-width="1.20" />
<path d="M411.5 131.5 L429.5 134.0 L429.5 152.5 L427.0 154.5 L413.0 154.5 L411.5 151.0 Z" fill="url(#hh)" stroke="#161616" stroke-width="1.08" />
<path d="M421.0 133.5 L429.5 134.5 L429.5 142.0 L421.0 141.0 Z" fill="#161616" stroke="#161616" stroke-width="0.48" />
<path d="M430.0 136.0 L433.0 136.0 L433.0 141.0 L430.0 141.0 Z" fill="white" stroke="#161616" stroke-width="1.08" />
<path d="M390.5 129.5 L406.0 128.5 L408.0 132.0 L408.0 151.0 L404.0 148.0 L404.0 133.5 L391.0 134.0 Z" fill="white" stroke="#161616" stroke-width="1.20" />
<path d="M391.5 131 V139 M394 131 V139 M397 131 V137" fill="none" stroke="#161616" stroke-width="1.20" />
<path d="M399.0 134.0 L404.0 134.0 L404.0 147.0 L399.0 143.0 Z" fill="#161616" stroke="#161616" stroke-width="0.48" />
<path d="M375.5 126.0 L384.0 126.0 L384.0 132.5 L375.5 132.5 Z" fill="white" stroke="#161616" stroke-width="0.96" />
<path d="M377 128 H383 M377 130.5 H383" fill="none" stroke="#161616" stroke-width="1.20" />
<path d="M356.6 90.3 L370 96 L373.1 102.2 M370 96 L386 99.5 L408.8 90.3 M386 99.5 L431.8 99.4" fill="none" stroke="#161616" stroke-width="1.68" />
<path d="M388.5 86.0 L402.5 85.0 L406.0 91.5 L390.0 92.8 Z" fill="white" stroke="#161616" stroke-width="1.68" />
<path d="M380 76.5 L400 78 L405.5 89 M385 74.7 L389 84" fill="none" stroke="#161616" stroke-width="1.44" />
<path d="M364.8 78.3 Q372 80 374 88 Q375 94 386 99.5" fill="none" stroke="#161616" stroke-width="1.56" />
<path d="M368 77 Q364 84 362.5 90.5" fill="none" stroke="#161616" stroke-width="1.80" />
<path d="M370.5 79.5 L373.5 78.2 L379.5 90.0 L377.0 93.5 L373.5 88.0 Z" fill="#161616" stroke="#161616" stroke-width="0.60" />
<path d="M376 77.5 Q383.5 81 386.5 92.5 L388.5 86" fill="none" stroke="#161616" stroke-width="1.80" />
<path d="M371 88.5 Q376 85 379 89 Q380.5 94 376.5 96" fill="none" stroke="#161616" stroke-width="1.80" />
<path d="M366.5 88 Q369 92 373 95.5" fill="none" stroke="#161616" stroke-width="1.56" />
<path d="M371.5 95.8 L386.0 99.2 L386.0 102.0 L374.5 102.2 L371.5 99.0 Z" fill="#161616" stroke="#161616" stroke-width="0.60" />
<path d="M341 96.5 L356.6 91 L370 96.5" fill="none" stroke="#161616" stroke-width="1.92" />
<path d="M341 95.8 L345 99 L341 118 L343.8 122.3 M345 99 L360 94 M352 97 Q347 108 345.6 126 M356 96 Q351 110 350 126 M360 94 Q363 104 358.4 126 M362 115 L366 100 L370 96" fill="none" stroke="#161616" stroke-width="1.20" />
<ellipse cx="385.5" cy="58.0" rx="2.6" ry="2.2" transform="rotate(0 385.5 58.0)" fill="#161616" stroke="#161616" stroke-width="0.60"/>
<line x1="385.5" y1="60.0" x2="385.5" y2="64.0" stroke="#161616" stroke-width="1.8" />
<ellipse cx="385.5" cy="56.6" rx="3.0" ry="1.2" transform="rotate(0 385.5 56.6)" fill="#161616" stroke="#161616" stroke-width="0.48"/>
<ellipse cx="452.5" cy="140.0" rx="2.7" ry="3.0" transform="rotate(0 452.5 140.0)" fill="#161616" stroke="#161616" stroke-width="0.60"/>
<line x1="449.0" y1="138.5" x2="446.0" y2="137.5" stroke="#161616" stroke-width="1.8" />
<path d="M356.4 148.0 L360.4 148.0 L360.4 154.0 L356.4 154.0 Z" fill="#161616" stroke="#161616" stroke-width="0.96" />
<line x1="358.4" y1="154.0" x2="358.4" y2="163.5" stroke="#161616" stroke-width="2.4" />
<path d="M370.6 147.5 L374.6 147.5 L374.6 153.5 L370.6 153.5 Z" fill="#161616" stroke="#161616" stroke-width="0.96" />
<line x1="372.6" y1="153.5" x2="372.6" y2="163.0" stroke="#161616" stroke-width="2.4" />
<path d="M373.8 143.5 L377.8 143.5 L377.8 149.5 L373.8 149.5 Z" fill="#161616" stroke="#161616" stroke-width="0.96" />
<line x1="375.8" y1="149.5" x2="375.8" y2="159.0" stroke="#161616" stroke-width="2.4" />
<path d="M385.8 147.5 L389.8 147.5 L389.8 153.5 L385.8 153.5 Z" fill="#161616" stroke="#161616" stroke-width="0.96" />
<line x1="387.8" y1="153.5" x2="387.8" y2="163.0" stroke="#161616" stroke-width="2.4" />
<path d="M362.5 199.5 L364.0 208.0 L370.0 213.0 L389.5 208.5 L390.3 199.5 L397.0 194.0 Z" fill="white" stroke="#161616" stroke-width="1.68" />
<path d="M364 205 L370 210 L389.8 205" fill="none" stroke="#161616" stroke-width="1.32" />
<path d="M390.0 196.5 L398.0 194.5 L398.0 199.0 L389.5 203.0 Z" fill="white" stroke="#161616" stroke-width="1.44" />
<path d="M347.0 189.5 L352.0 189.0 L355.0 195.0 L363.0 199.0 L364.0 207.0 L360.0 211.0 L355.0 205.0 L354.5 197.5 Z" fill="white" stroke="#161616" stroke-width="1.80" />
<path d="M356.2 197.2 L360.8 199.8 L360.8 204.0 L356.2 201.4 Z" fill="white" stroke="#161616" stroke-width="1.56" />
<path d="M352.0 175.5 L361.0 182.3 L397.5 174.5 L397.5 192.5 L362.3 199.5 L352.3 188.5 Z" fill="white" stroke="#161616" stroke-width="1.80" />
<path d="M352 177.1 L361.5 184.5 L397.5 176.8" fill="none" stroke="#161616" stroke-width="1.32" />
<path d="M352 178.8 L361.5 186.6 L397.5 179.0" fill="none" stroke="#161616" stroke-width="1.32" />
<path d="M352 180.4 L361.5 188.8 L397.5 181.2" fill="none" stroke="#161616" stroke-width="1.32" />
<path d="M352 182.0 L361.5 190.9 L397.5 183.5" fill="none" stroke="#161616" stroke-width="1.32" />
<path d="M352 183.6 L361.5 193.1 L397.5 185.8" fill="none" stroke="#161616" stroke-width="1.32" />
<path d="M352 185.2 L361.5 195.2 L397.5 188.0" fill="none" stroke="#161616" stroke-width="1.32" />
<path d="M352 186.9 L361.5 197.3 L397.5 190.2" fill="none" stroke="#161616" stroke-width="1.32" />
<line x1="361.0" y1="182.3" x2="362.3" y2="199.5" stroke="#161616" stroke-width="0.9" />
<path d="M352.0 175.5 L378.0 163.3 L397.5 174.5 L361.0 182.3 Z" fill="white" stroke="#161616" stroke-width="1.80" />
<path d="M361.5 173 Q361 167 366.5 166.5 Q371 167.5 371.5 172.5 L371.5 177 Q367 181.5 362 178 Z" fill="white" stroke="#161616" stroke-width="1.80" />
<ellipse cx="366.3" cy="172.5" rx="2.4" ry="3.4" transform="rotate(-15 366.3 172.5)" fill="white" stroke="#161616" stroke-width="1.68"/>
<path d="M374 170.5 Q375 164.5 381 165 L390 169.5 Q392.5 172 391.5 176 L389 181.5 Q382 184.5 376 180 Z" fill="white" stroke="#161616" stroke-width="1.80" />
<path d="M377.5 167 L375.5 178 M380.5 166.5 L378.5 180.5 M383.5 167.5 L381.8 182 M386.5 168.5 L385 182 M389.3 170.5 L388 180.5" fill="none" stroke="#161616" stroke-width="1.20" />
<path d="M371.5 175 L376 177.5 M371.5 178.5 L375.5 180.5" fill="none" stroke="#161616" stroke-width="1.44" />
<ellipse cx="358.0" cy="172.0" rx="1.8" ry="2.0" transform="rotate(0 358.0 172.0)" fill="white" stroke="#161616" stroke-width="1.56"/>
<ellipse cx="394.0" cy="176.0" rx="1.4" ry="1.4" transform="rotate(0 394.0 176.0)" fill="white" stroke="#161616" stroke-width="1.20"/>
<path d="M391.5 172.5 L396 174.5" fill="none" stroke="#161616" stroke-width="1.20" />
<path d="M350.5 230.5 L373.0 216.3 L396.8 227.8 L374.5 243.8 Z" fill="white" stroke="#161616" stroke-width="2.04" />
<path d="M353.5 230.5 L373.0 218.2 L393.8 227.9 L374.5 241.8 Z" fill="none" stroke="#161616" stroke-width="0.84" />
<ellipse cx="373.8" cy="229.6" rx="11.2" ry="7.0" transform="rotate(-4 373.8 229.6)" fill="white" stroke="#161616" stroke-width="1.68"/>
<ellipse cx="358.5" cy="229.5" rx="1.2" ry="1.2" transform="rotate(0 358.5 229.5)" fill="none" stroke="#161616" stroke-width="1.20"/>
<ellipse cx="371.8" cy="219.8" rx="1.2" ry="1.2" transform="rotate(0 371.8 219.8)" fill="none" stroke="#161616" stroke-width="1.20"/>
<ellipse cx="388.5" cy="230.5" rx="1.2" ry="1.2" transform="rotate(0 388.5 230.5)" fill="none" stroke="#161616" stroke-width="1.20"/>
<ellipse cx="375.5" cy="239.8" rx="1.2" ry="1.2" transform="rotate(0 375.5 239.8)" fill="none" stroke="#161616" stroke-width="1.20"/>
<ellipse cx="374.2" cy="250.2" rx="10.5" ry="3.9" transform="rotate(-5 374.2 250.2)" fill="none" stroke="#161616" stroke-width="1.80"/>
<ellipse cx="374.2" cy="254.2" rx="10.5" ry="3.9" transform="rotate(-5 374.2 254.2)" fill="none" stroke="#161616" stroke-width="1.80"/>
<path d="M363.8 267 L365.5 279 Q370 286.5 376 285.5 Q381 284 383 277 L383.8 266.5" fill="white" stroke="#161616" stroke-width="1.68" />
<ellipse cx="373.8" cy="266.7" rx="10.0" ry="4.6" transform="rotate(-4 373.8 266.7)" fill="white" stroke="#161616" stroke-width="1.80"/>
<path d="M364 270.5 Q374 277 383.8 270 M364.2 272.3 Q374 278.8 383.7 271.8" fill="none" stroke="#161616" stroke-width="1.20" />
<ellipse cx="379.3" cy="277.5" rx="2.0" ry="2.4" transform="rotate(0 379.3 277.5)" fill="#161616" stroke="#161616" stroke-width="0.48"/>
<ellipse cx="360.0" cy="266.2" rx="1.5" ry="1.8" transform="rotate(0 360.0 266.2)" fill="#161616" stroke="#161616" stroke-width="0.48"/>
<ellipse cx="387.2" cy="281.6" rx="2.0" ry="2.8" transform="rotate(10 387.2 281.6)" fill="white" stroke="#161616" stroke-width="2.28"/>
<path d="M394.0 285.6 L396.4 283.2 L406.2 289.0 L404.2 292.2 Z" fill="white" stroke="#161616" stroke-width="1.56" />
<ellipse cx="395.2" cy="284.4" rx="1.1" ry="1.8" transform="rotate(-35 395.2 284.4)" fill="none" stroke="#161616" stroke-width="0.96"/>
<ellipse cx="408.3" cy="294.0" rx="1.9" ry="2.5" transform="rotate(10 408.3 294.0)" fill="#161616" stroke="#161616" stroke-width="0.60"/>
<ellipse cx="408.3" cy="294.0" rx="0.6" ry="0.9" transform="rotate(0 408.3 294.0)" fill="white" stroke="#161616" stroke-width="0.24"/>
<path d="M380.2 295.6 L383.4 292.6 L389.2 296.6 L386.4 301.0 Z" fill="#161616" stroke="#161616" stroke-width="1.20" />
<path d="M382.5 294 L385.5 299.5 M384.5 293.5 L387.8 298.5" fill="none" stroke="#fff" stroke-width="0.60" />
<path d="M497.6 230.8 L499.8 229.7 L500.8 241.6 L505.2 244.8 L506.3 257.8 L502.0 262.2 L494.3 264.3 Z" fill="white" stroke="#161616" stroke-width="1.68" />
<ellipse cx="504.2" cy="257.6" rx="2.6" ry="4.2" transform="rotate(5 504.2 257.6)" fill="white" stroke="#161616" stroke-width="1.56"/>
<path d="M499.5 252.5 L504 253.3 M500 261.5 L504.4 261.8" fill="none" stroke="#161616" stroke-width="1.32" />
<path d="M465.0 223.2 L467.3 217.8 L472.7 213.4 L479.2 213.4 L494.3 224.3 L497.6 230.8 L497.6 255.7 L494.3 264.3 L484.6 264.3 L467.3 252.4 L465.0 247.0 Z" fill="white" stroke="#161616" stroke-width="1.92" />
<path d="M467.3 218.5 Q471 216 477 218.3 L490.5 227.5 Q493.8 230.5 494 235 L494.2 257 Q493 262.5 490.5 264" fill="none" stroke="#161616" stroke-width="1.32" />
<path d="M466 226 Q469.5 222 475.5 225.5 L488.5 234.5 Q491.5 237.5 491.2 242.5 L490.2 261" fill="none" stroke="#161616" stroke-width="1.32" />
<path d="M467.5 229.8 L486.0 241.0 L486.0 247.0 L467.5 235.8 Z" fill="white" stroke="#161616" stroke-width="1.92" />
<path d="M472.0 235.2 L481.5 241.0 L481.5 244.3 L472.0 238.5 Z" fill="white" stroke="#161616" stroke-width="1.56" />
<ellipse cx="469.6" cy="234.0" rx="0.9" ry="1.1" transform="rotate(0 469.6 234.0)" fill="#161616" stroke="#161616" stroke-width="0.36"/>
<ellipse cx="484.0" cy="243.8" rx="0.9" ry="1.1" transform="rotate(0 484.0 243.8)" fill="#161616" stroke="#161616" stroke-width="0.36"/>
<path d="M467 240.5 L485 251.5 M468 247.5 L484 257.5" fill="none" stroke="#161616" stroke-width="1.20" />
<path d="M484.6 264.3 L484.2 254.5 Q486 250.5 490.5 251 L497.6 250" fill="none" stroke="#161616" stroke-width="1.44" />
<path d="M431.5 238.3 L457.5 253.5 L457.5 277.3 L455.0 277.8 L431.5 262.2 L432.0 256.5 L430.3 254.5 Z" fill="white" stroke="#161616" stroke-width="1.68" />
<path d="M440.0 254.6 L444.0 253.0 L450.0 257.0 L450.6 261.4 L446.8 263.0 L440.6 259.0 Z" fill="white" stroke="#161616" stroke-width="1.56" />
<ellipse cx="436.5" cy="253.2" rx="1.1" ry="1.1" transform="rotate(0 436.5 253.2)" fill="#161616" stroke="#161616" stroke-width="0.48"/>
<ellipse cx="453.3" cy="265.0" rx="1.1" ry="1.1" transform="rotate(0 453.3 265.0)" fill="#161616" stroke="#161616" stroke-width="0.48"/>
<line x1="513.5" y1="206.0" x2="524.9" y2="199.7" stroke="#161616" stroke-width="2.8" stroke-linecap="butt"/>
<line x1="524.9" y1="199.7" x2="538.3" y2="192.2" stroke="#161616" stroke-width="2.6" />
<line x1="525.5" y1="199.3" x2="537.3" y2="192.8" stroke="#fff" stroke-width="1.2" />
<ellipse cx="538.9" cy="191.9" rx="2.3" ry="3.3" transform="rotate(-30 538.9 191.9)" fill="white" stroke="#161616" stroke-width="1.44"/>
<line x1="523.4" y1="215.6" x2="534.3" y2="209.3" stroke="#161616" stroke-width="2.8" stroke-linecap="butt"/>
<line x1="534.3" y1="209.3" x2="547.0" y2="201.8" stroke="#161616" stroke-width="2.6" />
<line x1="534.9" y1="208.9" x2="546.0" y2="202.4" stroke="#fff" stroke-width="1.2" />
<ellipse cx="547.6" cy="201.5" rx="2.3" ry="3.3" transform="rotate(-30 547.6 201.5)" fill="white" stroke="#161616" stroke-width="1.44"/>
<ellipse cx="499.8" cy="215.6" rx="2.3" ry="3.3" transform="rotate(-25 499.8 215.6)" fill="white" stroke="#161616" stroke-width="1.80"/>
<ellipse cx="500.0" cy="215.6" rx="0.9" ry="1.6" transform="rotate(-25 500.0 215.6)" fill="none" stroke="#161616" stroke-width="0.96"/>
<ellipse cx="508.4" cy="225.3" rx="2.3" ry="3.3" transform="rotate(-25 508.4 225.3)" fill="white" stroke="#161616" stroke-width="1.80"/>
<ellipse cx="508.6" cy="225.3" rx="0.9" ry="1.6" transform="rotate(-25 508.6 225.3)" fill="none" stroke="#161616" stroke-width="0.96"/>
<ellipse cx="508.4" cy="210.2" rx="2.7" ry="3.4" transform="rotate(-25 508.4 210.2)" fill="#161616" stroke="#161616" stroke-width="0.60"/>
<ellipse cx="508.4" cy="210.2" rx="0.8" ry="1.2" transform="rotate(-25 508.4 210.2)" fill="white" stroke="#161616" stroke-width="0.24"/>
<ellipse cx="517.0" cy="220.0" rx="2.7" ry="3.4" transform="rotate(-25 517.0 220.0)" fill="#161616" stroke="#161616" stroke-width="0.60"/>
<ellipse cx="517.0" cy="220.0" rx="0.8" ry="1.2" transform="rotate(-25 517.0 220.0)" fill="white" stroke="#161616" stroke-width="0.24"/>
<path d="M351.0 309.3 L364.5 313.0 L364.5 318.5 L351.0 314.3 Z" fill="white" stroke="#161616" stroke-width="1.68" />
<path d="M348.8 308.8 L353.3 310.0 L353.3 314.8 L348.8 313.6 Z" fill="#161616" stroke="#161616" stroke-width="0.96" />
<path d="M379.0 321.0 L395.0 333.5 L393.0 339.0 L378.0 326.8 Z" fill="white" stroke="#161616" stroke-width="1.68" />
<path d="M389.0 331.5 L395.0 335.0 L393.0 339.5 L387.5 336.2 Z" fill="#161616" stroke="#161616" stroke-width="0.96" />
<ellipse cx="384.3" cy="326.8" rx="1.2" ry="1.2" transform="rotate(0 384.3 326.8)" fill="#161616" stroke="#161616" stroke-width="0.36"/>
<path d="M360.8 318 Q360.8 310.5 366.5 310.5 Q371.5 311 371 318 L370.5 333 Q366 339 361 334.5 Q356.5 331.5 357.5 328.5 L360.8 326 Z" fill="white" stroke="#161616" stroke-width="1.80" />
<path d="M371.5 322 Q372 314.5 377.3 314.5 Q382.3 315.5 381.8 322 L381 335 Q378 341 371.5 340 Q366 339 365.5 335 L371 331.5 Z" fill="white" stroke="#161616" stroke-width="1.80" />
<path d="M361 334.5 Q366 341 371.5 340 M357.5 328.5 Q359 333.5 365.5 335" fill="none" stroke="#161616" stroke-width="1.44" />
<ellipse cx="366.3" cy="317.3" rx="2.0" ry="2.9" transform="rotate(10 366.3 317.3)" fill="none" stroke="#161616" stroke-width="1.44"/>
<ellipse cx="376.8" cy="321.5" rx="2.0" ry="2.9" transform="rotate(10 376.8 321.5)" fill="none" stroke="#161616" stroke-width="1.44"/>
<path d="M371.8 294.5 L375.6 295.0 L373.8 316.0 L369.2 315.0 Z" fill="white" stroke="#161616" stroke-width="1.56" />
<line x1="373.6" y1="296.0" x2="371.6" y2="314.0" stroke="#161616" stroke-width="0.8" />
<ellipse cx="374.0" cy="291.0" rx="3.6" ry="4.6" transform="rotate(10 374.0 291.0)" fill="white" stroke="#161616" stroke-width="1.92"/>
<ellipse cx="374.0" cy="291.0" rx="1.7" ry="2.4" transform="rotate(10 374.0 291.0)" fill="white" stroke="#161616" stroke-width="1.20"/>
<path d="M356.6 305.2 L359.8 305.6 L359.2 307.6 L356.8 307.2 Z" fill="#161616" stroke="#161616" stroke-width="0.72" />
<ellipse cx="408.5" cy="345.0" rx="5.4" ry="7.0" transform="rotate(14 408.5 345.0)" fill="white" stroke="#161616" stroke-width="3.00"/>
<ellipse cx="408.7" cy="345.2" rx="2.6" ry="4.0" transform="rotate(14 408.7 345.2)" fill="white" stroke="#161616" stroke-width="1.20"/>
<ellipse cx="424.5" cy="354.0" rx="5.6" ry="7.8" transform="rotate(14 424.5 354.0)" fill="white" stroke="#161616" stroke-width="2.04"/>
<ellipse cx="424.8" cy="354.2" rx="3.4" ry="5.2" transform="rotate(14 424.8 354.2)" fill="white" stroke="#161616" stroke-width="1.44"/>
<ellipse cx="425.0" cy="354.4" rx="1.5" ry="2.5" transform="rotate(14 425.0 354.4)" fill="white" stroke="#161616" stroke-width="1.08"/>
<path d="M447 348.5 L450 350.2" fill="none" stroke="#161616" stroke-width="2.40" />
<path d="M427 376 L430 377.7" fill="none" stroke="#161616" stroke-width="2.40" />
<path d="M438.7 360.6 L441.0 358.5 L452.0 359.5 L455.0 351.0 L452.0 392.0 L449.5 390.0 L437.6 383.5 L436.8 366.0 Z" fill="white" stroke="#161616" stroke-width="1.68" />
<path d="M441 362 L451 363 M441.5 362 L440.5 384.5 M445.5 363 L445 387.5 M438 370 L441 371" fill="none" stroke="#161616" stroke-width="1.20" />
<path d="M442 366 Q447 372 445 384" fill="none" stroke="#161616" stroke-width="1.08" />
<path d="M456.5 352.0 Q457.0 350.3 458.7 351.0 L460.3 351.6 Q462.0 352.3 463.7 352.9 L471.3 355.9 Q473.0 356.5 474.2 357.8 L475.6 359.2 Q476.8 360.5 477.0 362.3 L477.6 368.2 Q477.8 370.0 477.4 371.8 L475.6 380.2 Q475.2 382.0 474.3 383.5 L470.9 389.3 Q470.0 390.8 468.7 392.1 L465.3 395.7 Q464.0 397.0 462.2 397.4 L454.8 399.1 Q453.0 399.5 452.1 398.0 L450.9 396.0 Q450.0 394.5 449.9 392.7 L449.4 381.8 Q449.3 380.0 449.6 378.2 L450.7 370.3 Q451.0 368.5 451.6 366.8 L454.4 359.2 Q455.0 357.5 455.5 355.8 Z" fill="white" stroke="#161616" stroke-width="2.04" />
<path d="M458.0 356.0 Q458.5 354.5 460.1 354.9 L460.9 355.1 Q462.5 355.5 464.0 356.1 L470.0 358.4 Q471.5 359.0 472.6 360.2 L473.1 360.8 Q474.2 362.0 474.4 363.6 L474.8 368.4 Q475.0 370.0 474.7 371.6 L472.9 379.4 Q472.6 381.0 471.8 382.4 L468.6 387.6 Q467.8 389.0 466.7 390.2 L463.9 393.1 Q462.8 394.3 461.2 394.7 L456.4 395.9 Q454.8 396.3 453.9 395.0 L453.5 394.3 Q452.6 393.0 452.5 391.4 L452.1 381.6 Q452.0 380.0 452.2 378.4 L453.4 371.1 Q453.6 369.5 454.1 368.0 L456.0 361.5 Q456.5 360.0 457.0 358.5 Z" fill="white" stroke="#161616" stroke-width="1.32" />
<ellipse cx="462.8" cy="376.5" rx="7.2" ry="10.0" transform="rotate(12 462.8 376.5)" fill="white" stroke="#161616" stroke-width="1.92"/>
<ellipse cx="461.8" cy="376.8" rx="4.0" ry="5.6" transform="rotate(12 461.8 376.8)" fill="white" stroke="#161616" stroke-width="1.68"/>
<path d="M462 356.5 L462.8 366.5 M473 363.5 L468 370.5 M472 383.5 L468 381 M459 394.5 L460.8 386.5 M454 371 L456.8 373.5" fill="none" stroke="#161616" stroke-width="2.16" />
<path d="M455 351 L457.5 347.5 L460.5 348.5 L461 352" fill="none" stroke="#161616" stroke-width="1.44" />
<ellipse cx="459.3" cy="352.8" rx="1.5" ry="1.7" transform="rotate(0 459.3 352.8)" fill="#161616" stroke="#161616" stroke-width="0.48"/>
<ellipse cx="475.0" cy="362.5" rx="1.5" ry="1.7" transform="rotate(0 475.0 362.5)" fill="#161616" stroke="#161616" stroke-width="0.48"/>
<ellipse cx="473.2" cy="385.0" rx="1.5" ry="1.7" transform="rotate(0 473.2 385.0)" fill="#161616" stroke="#161616" stroke-width="0.48"/>
<ellipse cx="461.5" cy="397.5" rx="1.5" ry="1.7" transform="rotate(0 461.5 397.5)" fill="#161616" stroke="#161616" stroke-width="0.48"/>
<ellipse cx="453.3" cy="393.5" rx="1.5" ry="1.7" transform="rotate(0 453.3 393.5)" fill="#161616" stroke="#161616" stroke-width="0.48"/>
<path d="M481.0 391.3 Q481.0 388.8 483.0 387.3 L487.6 383.8 Q489.6 382.3 491.9 383.3 L497.0 385.6 Q499.3 386.6 499.1 389.1 L498.5 396.0 Q498.3 398.5 496.3 400.0 L490.5 404.5 Q488.5 406.0 486.3 404.8 L483.2 403.0 Q481.0 401.8 481.0 399.3 Z" fill="white" stroke="#161616" stroke-width="1.80" />
<path d="M483.5 389.5 L483.8 401 M481 395 L483.6 395.5" fill="none" stroke="#161616" stroke-width="1.32" />
<ellipse cx="491.6" cy="394.0" rx="5.4" ry="8.4" transform="rotate(14 491.6 394.0)" fill="white" stroke="#161616" stroke-width="1.44"/>
<ellipse cx="492.2" cy="394.2" rx="3.6" ry="5.8" transform="rotate(14 492.2 394.2)" fill="#161616" stroke="#161616" stroke-width="0.60"/>
<ellipse cx="492.4" cy="394.4" rx="1.6" ry="2.8" transform="rotate(14 492.4 394.4)" fill="white" stroke="#161616" stroke-width="0.36"/>
<ellipse cx="492.5" cy="394.5" rx="0.7" ry="1.2" transform="rotate(14 492.5 394.5)" fill="#161616" stroke="#161616" stroke-width="0.24"/>
<path d="M486.5 385.5 L492.5 384.2 M485.5 402.5 L490 404.2" fill="none" stroke="#161616" stroke-width="1.80" />
<path d="M501.8 408 Q503.5 396.5 519.5 391.5" fill="none" stroke="#161616" stroke-width="7.44" />
<path d="M502.6 406.5 Q504.8 397.8 518.5 393" fill="none" stroke="#fff" stroke-width="3.12"  stroke-dasharray="3.6 2.0" stroke-linecap="butt"/>
<path d="M509.5 413.0 L512.5 406.5 L518.0 402.5 L526.0 400.8 L534.0 402.0 L537.5 405.5 L537.5 412.0 L524.5 436.8 L518.0 438.0 L511.0 435.5 L509.3 430.0 Z" fill="white" stroke="#161616" stroke-width="1.92" />
<path d="M512.5 406.5 L513.5 428 L518 438 M513.5 428 L522 434.5" fill="none" stroke="#161616" stroke-width="1.44" />
<path d="M516 404.5 Q516 418 519.5 431" fill="none" stroke="#161616" stroke-width="1.20" />
<path d="M514.0 407.5 L519.5 404.5 L521.0 411.0 L517.0 416.5 Z" fill="#161616" stroke="#161616" stroke-width="0.60" />
<path d="M510.5 416 L513.3 418 M510.5 422 L513.3 424 M511 428 L513.6 430" fill="none" stroke="#161616" stroke-width="1.44" />
<ellipse cx="533.0" cy="422.8" rx="11.0" ry="12.2" transform="rotate(10 533.0 422.8)" fill="white" stroke="#161616" stroke-width="1.92"/>
<path d="M521.5 409.5 Q527 402.5 536.5 404.5" fill="none" stroke="#161616" stroke-width="1.56" />
<path d="M523.5 432 Q520.5 424.5 521.5 416.5" fill="none" stroke="#161616" stroke-width="1.32" />
<path d="M524.5 412 Q521 420 524.8 431.5" fill="none" stroke="#161616" stroke-width="1.08" />
<ellipse cx="553.0" cy="406.5" rx="2.9" ry="3.1" transform="rotate(0 553.0 406.5)" fill="#161616" stroke="#161616" stroke-width="0.60"/>
<line x1="550.5" y1="405.0" x2="547.5" y2="403.2" stroke="#161616" stroke-width="2.2" />
<ellipse cx="548.0" cy="426.7" rx="2.9" ry="3.1" transform="rotate(0 548.0 426.7)" fill="#161616" stroke="#161616" stroke-width="0.60"/>
<line x1="545.5" y1="425.2" x2="542.5" y2="423.4" stroke="#161616" stroke-width="2.2" />
<ellipse cx="557.8" cy="433.5" rx="2.9" ry="3.1" transform="rotate(0 557.8 433.5)" fill="#161616" stroke="#161616" stroke-width="0.60"/>
<line x1="555.3" y1="432.0" x2="552.3" y2="430.2" stroke="#161616" stroke-width="2.2" />
<ellipse cx="541.6" cy="446.5" rx="2.9" ry="3.1" transform="rotate(0 541.6 446.5)" fill="#161616" stroke="#161616" stroke-width="0.60"/>
<line x1="539.1" y1="445.0" x2="536.1" y2="443.2" stroke="#161616" stroke-width="2.2" />
<path d="M339.0 328.0 L355.0 337.0 L356.0 354.0 L353.0 355.5 L338.0 346.5 Z" fill="white" stroke="#161616" stroke-width="1.44" />
<path d="M343.5 338.0 L347.0 336.5 L351.0 339.0 L351.5 344.5 L348.0 346.5 L344.0 343.5 Z" fill="white" stroke="#161616" stroke-width="1.20" />
<line x1="343.8" y1="340.8" x2="351.3" y2="341.8" stroke="#161616" stroke-width="1.0" />
<line x1="347.3" y1="336.8" x2="347.8" y2="346.2" stroke="#161616" stroke-width="1.0" />
<ellipse cx="341.5" cy="332.0" rx="1.0" ry="1.0" transform="rotate(0 341.5 332.0)" fill="#161616" stroke="#161616" stroke-width="0.36"/>
<ellipse cx="352.5" cy="338.5" rx="1.0" ry="1.0" transform="rotate(0 352.5 338.5)" fill="#161616" stroke="#161616" stroke-width="0.36"/>
<ellipse cx="353.5" cy="351.0" rx="1.0" ry="1.0" transform="rotate(0 353.5 351.0)" fill="#161616" stroke="#161616" stroke-width="0.36"/>
<ellipse cx="340.5" cy="344.0" rx="1.0" ry="1.0" transform="rotate(0 340.5 344.0)" fill="#161616" stroke="#161616" stroke-width="0.36"/>
<path d="M321.7 341.7 L327.5 340.8 L340.8 349.2 L341.7 356.7 L337.5 360.8 L331.7 360.0 L316.7 365.8 L313.0 357.0 L314.2 349.2 Z" fill="white" stroke="#161616" stroke-width="1.80" />
<path d="M321.7 341.7 L334.5 350.5 L335.5 357.5 L331.7 360 M334.5 350.5 L340.8 349.2" fill="none" stroke="#161616" stroke-width="1.32" />
<path d="M325 346.5 Q331 349 331.5 356" fill="none" stroke="#161616" stroke-width="1.08" />
<defs><pattern id="kn" width="2.6" height="2.6" patternUnits="userSpaceOnUse" patternTransform="rotate(30)"><rect width="2.6" height="2.6" fill="#161616"/><rect x="0.3" y="0.3" width="1.15" height="1.15" fill="#fff"/></pattern></defs>
<path d="M316.0 348.5 L322.5 345.5 L329.5 351.0 L329.5 361.0 L318.0 365.0 L314.2 357.0 Z" fill="url(#kn)" stroke="#161616" stroke-width="1.20" />
<ellipse cx="308.2" cy="363.0" rx="3.8" ry="7.8" transform="rotate(22 308.2 363.0)" fill="white" stroke="#161616" stroke-width="2.04"/>
<ellipse cx="304.6" cy="365.4" rx="3.4" ry="7.2" transform="rotate(22 304.6 365.4)" fill="white" stroke="#161616" stroke-width="1.92"/>
<path d="M309 358.5 L314.5 356 M311.5 369 L317 366.2" fill="none" stroke="#161616" stroke-width="1.56" />
<ellipse cx="304.2" cy="355.3" rx="1.7" ry="1.8" transform="rotate(0 304.2 355.3)" fill="#161616" stroke="#161616" stroke-width="0.36"/>
<ellipse cx="316.7" cy="370.0" rx="1.7" ry="1.8" transform="rotate(0 316.7 370.0)" fill="#161616" stroke="#161616" stroke-width="0.36"/>
<ellipse cx="311.8" cy="370.8" rx="1.7" ry="1.8" transform="rotate(0 311.8 370.8)" fill="#161616" stroke="#161616" stroke-width="0.36"/>
<ellipse cx="301.6" cy="359.2" rx="1.7" ry="1.8" transform="rotate(0 301.6 359.2)" fill="#161616" stroke="#161616" stroke-width="0.36"/>
<ellipse cx="308.5" cy="372.5" rx="1.7" ry="1.8" transform="rotate(0 308.5 372.5)" fill="#161616" stroke="#161616" stroke-width="0.36"/>
<ellipse cx="305.6" cy="364.2" rx="1.6" ry="2.8" transform="rotate(22 305.6 364.2)" fill="#161616" stroke="#161616" stroke-width="0.60"/>
<ellipse cx="308.8" cy="361.0" rx="1.2" ry="2.0" transform="rotate(22 308.8 361.0)" fill="#161616" stroke="#161616" stroke-width="0.36"/>
<path d="M268.3 375.0 L272.5 371.7 L272.0 361.0 L276.7 350.8 L283.3 351.7 L287.0 358.5 L292.0 361.5 L296.0 369.5 L301.7 373.3 L305.0 380.0 L305.5 397.0 L298.3 403.3 L303.0 400.5 L290.0 411.7 L275.0 403.3 L271.7 394.2 L268.3 388.3 Z" fill="white" stroke="#161616" stroke-width="1.92" />
<path d="M262.8 346.8 L266.2 345.0 L269.5 347.5 L270.5 351.5 L275.5 354.0 L274.0 358.0 L268.0 356.5 L264.0 352.0 Z" fill="white" stroke="#161616" stroke-width="1.80" />
<ellipse cx="266.0" cy="348.6" rx="1.3" ry="1.5" transform="rotate(0 266.0 348.6)" fill="none" stroke="#161616" stroke-width="1.20"/>
<path d="M271.8 351.5 L276.5 353.5 L277.5 358.0 L272.5 356.5 Z" fill="#161616" stroke="#161616" stroke-width="0.72" />
<path d="M268.3 375.0 L272.5 371.7 L290.0 378.3 L290.0 396.7 L286.5 400.0 L271.7 394.2 L268.3 388.3 Z" fill="white" stroke="#161616" stroke-width="1.80" />
<ellipse cx="279.3" cy="383.6" rx="5.8" ry="8.2" transform="rotate(12 279.3 383.6)" fill="white" stroke="#161616" stroke-width="2.16"/>
<ellipse cx="279.8" cy="384.0" rx="3.6" ry="5.8" transform="rotate(12 279.8 384.0)" fill="none" stroke="#161616" stroke-width="1.32"/>
<path d="M276 378.5 Q273.5 383.5 276.5 389.5" fill="none" stroke="#161616" stroke-width="1.08" />
<ellipse cx="271.3" cy="377.5" rx="1.2" ry="1.3" transform="rotate(0 271.3 377.5)" fill="#161616" stroke="#161616" stroke-width="0.36"/>
<ellipse cx="287.5" cy="382.0" rx="1.2" ry="1.3" transform="rotate(0 287.5 382.0)" fill="#161616" stroke="#161616" stroke-width="0.36"/>
<ellipse cx="287.5" cy="395.0" rx="1.2" ry="1.3" transform="rotate(0 287.5 395.0)" fill="#161616" stroke="#161616" stroke-width="0.36"/>
<ellipse cx="272.5" cy="390.5" rx="1.2" ry="1.3" transform="rotate(0 272.5 390.5)" fill="#161616" stroke="#161616" stroke-width="0.36"/>
<path d="M273.5 357.0 L279.0 352.5 L281.5 360.5 L276.0 364.0 Z" fill="#161616" stroke="#161616" stroke-width="0.48" />
<path d="M282.5 361.5 L290.5 363.5 L290.5 372.5 L282.5 370.5 Z" fill="#161616" stroke="#161616" stroke-width="0.48" />
<path d="M284 363.5 L289.5 365 M284 366 L289.5 367.5 M284 368.5 L289.5 370" fill="none" stroke="#fff" stroke-width="0.60" />
<path d="M272 361 L283 366 L296 369.5 M283 366 L283 376 M272.5 366 L282 370.5 M290 378.3 L301.7 373.3 M293 381 L293 399 M297 378 L297 402 M301 376 L301.5 400" fill="none" stroke="#161616" stroke-width="1.44" />
<path d="M272.5 368.5 L282 373 M276 351 L276 357 M279 351 L279.5 354 M290 364 L294 362 M294.5 369.5 L295 377" fill="none" stroke="#161616" stroke-width="1.20" />
<path d="M292.8 382.5 L297.0 381.0 L297.0 396.0 L292.8 397.5 Z" fill="#161616" stroke="#161616" stroke-width="0.36" />
<path d="M298.5 383.0 L301.0 382.0 L301.3 393.0 L298.5 394.0 Z" fill="#161616" stroke="#161616" stroke-width="0.36" />
<path d="M291.0 372.5 L296.0 371.0 L300.0 373.5 L295.0 376.0 Z" fill="#161616" stroke="#161616" stroke-width="0.36" />
<ellipse cx="305.3" cy="397.5" rx="2.2" ry="2.4" transform="rotate(0 305.3 397.5)" fill="#161616" stroke="#161616" stroke-width="0.48"/>
<ellipse cx="299.5" cy="366.8" rx="1.6" ry="1.6" transform="rotate(0 299.5 366.8)" fill="white" stroke="#161616" stroke-width="1.20"/>
<path d="M275 403.3 L274.5 406.8 L290 415 L304.5 403.3 L303 400.5 M290 411.7 L290 415" fill="none" stroke="#161616" stroke-width="1.68" />
<path d="M277.0 402.5 L289.5 409.0 L289.5 411.0 L277.0 404.5 Z" fill="#161616" stroke="#161616" stroke-width="0.36" />
<path d="M251 401.5 L254 399 L258 400.5 L259 404.5 L263 406 L266 403.5 L270 405 L271.5 409 L276 410.5 L280 409" fill="none" stroke="#161616" stroke-width="3.12" />
<path d="M251 401.5 L254 399 L258 400.5 L259 404.5 L263 406 L266 403.5 L270 405 L271.5 409 L276 410.5 L280 409" fill="none" stroke="#fff" stroke-width="0.84" />
<ellipse cx="252.0" cy="402.0" rx="1.9" ry="2.1" transform="rotate(0 252.0 402.0)" fill="white" stroke="#161616" stroke-width="1.44"/>
<ellipse cx="262.8" cy="405.6" rx="1.2" ry="1.2" transform="rotate(0 262.8 405.6)" fill="white" stroke="#161616" stroke-width="1.08"/>
<ellipse cx="271.0" cy="407.5" rx="1.2" ry="1.2" transform="rotate(0 271.0 407.5)" fill="white" stroke="#161616" stroke-width="1.08"/>
<path d="M192.8 394.8 L219.4 377.3 L244.2 377.3 L279.0 409.4 L278.0 420.4 L244.2 443.3 L213.9 443.3 Z" fill="none" stroke="#161616" stroke-width="1.08" />
<path d="M211.7 395.0 Q212.0 391.0 215.4 388.9 L218.6 387.1 Q222.0 385.0 225.3 387.2 L240.2 397.3 Q243.5 399.5 243.9 403.5 L246.1 429.0 Q246.5 433.0 244.0 436.1 L242.5 437.9 Q240.0 441.0 236.1 440.1 L234.9 439.9 Q231.0 439.0 228.0 436.4 L215.5 425.6 Q212.5 423.0 211.6 419.1 L211.4 417.9 Q210.5 414.0 210.8 410.0 Z" fill="white" stroke="#161616" stroke-width="2.28" />
<path d="M214.3 397.5 Q214.5 394.0 217.4 392.1 L218.6 391.4 Q221.5 389.5 224.4 391.4 L237.6 400.1 Q240.5 402.0 240.8 405.5 L242.7 427.0 Q243.0 430.5 240.9 433.3 L240.6 433.7 Q238.5 436.5 235.2 435.8 L235.2 435.8 Q232.0 435.0 229.4 432.7 L218.1 422.8 Q215.5 420.5 214.6 417.1 L214.4 416.4 Q213.5 413.0 213.7 409.5 Z" fill="white" stroke="#161616" stroke-width="1.68" />
<path d="M216.8 401.0 Q217.0 398.0 219.5 396.5 L219.5 396.5 Q222.0 395.0 224.5 396.7 L235.0 403.8 Q237.5 405.5 237.8 408.5 L239.2 424.0 Q239.5 427.0 237.8 429.2 L237.8 429.2 Q236.0 431.5 233.8 431.0 L233.8 431.0 Q231.5 430.5 229.3 428.5 L220.2 420.5 Q218.0 418.5 217.2 415.6 L217.0 414.9 Q216.2 412.0 216.4 409.0 Z" fill="#161616" stroke="#161616" stroke-width="1.20" />
<path d="M230.7 414.6 L237.7 415.4" fill="none" stroke="#fff" stroke-width="2.04" />
<path d="M229.1 418.9 L234.0 425.7" fill="none" stroke="#fff" stroke-width="2.04" />
<path d="M225.7 421.0 L226.3 430.4" fill="none" stroke="#fff" stroke-width="2.04" />
<path d="M222.0 419.7 L218.0 427.5" fill="none" stroke="#fff" stroke-width="2.04" />
<path d="M219.9 415.8 L213.1 418.3" fill="none" stroke="#fff" stroke-width="2.04" />
<path d="M220.2 411.0 L213.9 407.0" fill="none" stroke="#fff" stroke-width="2.04" />
<path d="M222.9 407.7 L219.9 399.0" fill="none" stroke="#fff" stroke-width="2.04" />
<path d="M226.6 407.2 L228.4 398.1" fill="none" stroke="#fff" stroke-width="2.04" />
<path d="M229.7 410.0 L235.4 404.5" fill="none" stroke="#fff" stroke-width="2.04" />
<path d="M216.8 401.0 Q217.0 398.0 219.5 396.5 L219.5 396.5 Q222.0 395.0 224.5 396.7 L235.0 403.8 Q237.5 405.5 237.8 408.5 L239.2 424.0 Q239.5 427.0 237.8 429.2 L237.8 429.2 Q236.0 431.5 233.8 431.0 L233.8 431.0 Q231.5 430.5 229.3 428.5 L220.2 420.5 Q218.0 418.5 217.2 415.6 L217.0 414.9 Q216.2 412.0 216.4 409.0 Z" fill="none" stroke="#161616" stroke-width="1.44" />
<ellipse cx="225.2" cy="414.0" rx="5.8" ry="7.4" transform="rotate(10 225.2 414.0)" fill="white" stroke="#161616" stroke-width="2.04"/>
<ellipse cx="225.2" cy="414.0" rx="3.5" ry="4.7" transform="rotate(10 225.2 414.0)" fill="white" stroke="#161616" stroke-width="1.68"/>
<ellipse cx="225.2" cy="414.0" rx="1.6" ry="2.2" transform="rotate(10 225.2 414.0)" fill="#161616" stroke="#161616" stroke-width="0.48"/>
<path d="M222.0 386.5 L226.0 384.5 L230.0 387.5 L226.0 389.5 Z" fill="white" stroke="#161616" stroke-width="1.32" />
<path d="M238.0 399.0 L242.0 401.5 L242.0 404.0 L238.0 401.5 Z" fill="#161616" stroke="#161616" stroke-width="0.48" />
<path d="M212 420 L214.5 423.5 M240.5 437 L243.5 433" fill="none" stroke="#161616" stroke-width="1.56" />
<line x1="187.5" y1="429.5" x2="205.7" y2="420.4" stroke="#161616" stroke-width="2.6" />
<ellipse cx="185.5" cy="430.5" rx="2.2" ry="2.8" transform="rotate(-25 185.5 430.5)" fill="#161616" stroke="#161616" stroke-width="0.60"/>
<line x1="194.8" y1="443.3" x2="210.3" y2="433.3" stroke="#161616" stroke-width="2.6" />
<ellipse cx="192.8" cy="444.3" rx="2.2" ry="2.8" transform="rotate(-25 192.8 444.3)" fill="#161616" stroke="#161616" stroke-width="0.60"/>
<path d="M159.4 435.5 Q159.3 431.5 162.5 429.0 L163.8 428.0 Q167.0 425.5 170.0 425.8 L170.0 425.8 Q173.0 426.0 176.2 428.4 L184.8 434.6 Q188.0 437.0 188.3 441.0 L189.7 456.0 Q190.0 460.0 186.8 462.3 L184.2 464.2 Q181.0 466.5 177.5 466.0 L177.5 466.0 Q174.0 465.5 171.1 462.8 L162.9 455.2 Q160.0 452.5 159.9 448.5 Z" fill="white" stroke="#161616" stroke-width="2.04" />
<path d="M161.3 437.5 Q161.0 434.0 164.2 432.6 L164.8 432.4 Q168.0 431.0 170.5 433.4 L179.0 441.6 Q181.5 444.0 181.5 447.5 L181.5 458.5 Q181.5 462.0 178.2 463.2 L178.2 463.2 Q175.0 464.5 172.5 462.1 L165.0 454.9 Q162.5 452.5 162.2 449.0 Z" fill="white" stroke="#161616" stroke-width="1.56" />
<path d="M166.3 441.5 Q166.0 439.0 168.3 438.1 L168.9 437.9 Q171.2 437.0 173.0 438.7 L178.2 443.8 Q180.0 445.5 179.9 448.0 L179.6 456.0 Q179.5 458.5 177.7 459.5 L177.7 459.5 Q175.8 460.5 174.1 458.7 L169.0 453.3 Q167.3 451.5 167.0 449.0 Z" fill="white" stroke="#161616" stroke-width="1.80" />
<path d="M169 439.5 Q168.5 449 176 456.5" fill="none" stroke="#161616" stroke-width="1.08" />
<path d="M114.8 451.8 Q115.3 449.4 116.9 447.5 L118.2 445.8 Q119.8 443.9 122.3 443.5 L137.5 440.7 Q140.0 440.3 142.4 440.9 L147.7 442.4 Q150.1 443.0 151.9 444.8 L154.7 447.6 Q156.5 449.4 156.1 451.9 L156.0 452.4 Q155.6 454.9 154.0 456.8 L151.7 459.4 Q150.1 461.3 150.0 463.8 L149.3 480.8 Q149.2 483.3 147.6 485.2 L139.8 494.3 Q138.2 496.2 135.7 496.4 L129.7 496.9 Q127.2 497.1 125.0 495.9 L112.0 489.1 Q109.8 487.9 109.9 485.4 L110.6 473.0 Q110.7 470.5 111.2 468.1 Z" fill="white" stroke="#161616" stroke-width="2.16" />
<path d="M115.3 449.4 L118.5 451.5 L141 448.5 L150.5 452 L155.6 454.9 M141 448.5 L139.5 489 L127.2 497.1 M118.5 451.5 L113.5 472 L112.5 486" fill="none" stroke="#161616" stroke-width="1.20" />
<path d="M123 444.5 L143 442 L151 446.5 M139.5 489 Q143 481 149.2 479" fill="none" stroke="#161616" stroke-width="1.08" />
<path d="M128.0 443.3 L140.0 441.8 L146.0 444.0 L134.0 445.6 Z" fill="#161616" stroke="#161616" stroke-width="0.48" />
<path d="M118.3 455 L136 453.5 L137.3 463.5 L132.5 465.3 L131.8 459 L122.8 460.5 L120.8 482.5 L116 480.5 Z" fill="none" stroke="#161616" stroke-width="1.68" />
<ellipse cx="127.3" cy="474.2" rx="4.4" ry="6.0" transform="rotate(8 127.3 474.2)" fill="#161616" stroke="#161616" stroke-width="0.60"/>
<path d="M120.8 473.5 H134 M126.8 466 L127.9 483" fill="none" stroke="#161616" stroke-width="3.12" />
<path d="M123 469 L131.5 479.5 M131.5 469.5 L123 479" fill="none" stroke="#161616" stroke-width="1.68" />
<ellipse cx="127.3" cy="474.2" rx="1.3" ry="1.8" transform="rotate(0 127.3 474.2)" fill="white" stroke="#161616" stroke-width="0.24"/>
<ellipse cx="96.0" cy="493.8" rx="3.2" ry="5.0" transform="rotate(-10 96.0 493.8)" fill="#161616" stroke="#161616" stroke-width="0.96"/>
<ellipse cx="98.2" cy="493.0" rx="2.4" ry="4.2" transform="rotate(-10 98.2 493.0)" fill="white" stroke="#161616" stroke-width="1.92"/>
<line x1="100.5" y1="492.0" x2="105.0" y2="490.4" stroke="#161616" stroke-width="2.2" />
<path d="M345.0 411.7 L354.3 393.7 L358.0 393.5 L363.7 397.0 L364.0 400.0 L355.0 417.0 L351.0 416.5 Z" fill="#161616" stroke="#161616" stroke-width="1.44" />
<path d="M350.2 411.2 L355.4 414.1 L356.2 412.6 L351.0 409.7 Z" fill="white" stroke="#fff" stroke-width="0.24" />
<path d="M352.5 406.6 L357.7 409.5 L358.5 408.0 L353.3 405.1 Z" fill="white" stroke="#fff" stroke-width="0.24" />
<path d="M354.9 402.1 L360.1 405.0 L360.9 403.5 L355.7 400.6 Z" fill="white" stroke="#fff" stroke-width="0.24" />
<path d="M357.2 397.5 L362.4 400.4 L363.2 398.9 L358.0 396.0 Z" fill="white" stroke="#fff" stroke-width="0.24" />
<line x1="360.3" y1="407.7" x2="391.5" y2="426.0" stroke="#161616" stroke-width="1.9" />
<ellipse cx="397.0" cy="429.7" rx="6.4" ry="5.0" transform="rotate(20 397.0 429.7)" fill="white" stroke="#161616" stroke-width="2.40"/>
<line x1="392.8" y1="432.0" x2="401.0" y2="427.5" stroke="#161616" stroke-width="1.1" />
<line x1="394.0" y1="426.5" x2="400.0" y2="433.0" stroke="#161616" stroke-width="0.8" />
<path d="M319.7 418.5 L322.6 418.5 L322.6 492.0 L319.7 492.0 Z" fill="#c8c8c8" stroke="#161616" stroke-width="1.20" />
<path d="M323.6 417.5 L326.5 417.5 L326.5 475.5 L323.6 475.5 Z" fill="#c8c8c8" stroke="#161616" stroke-width="1.20" />
<ellipse cx="321.0" cy="496.8" rx="1.4" ry="1.5" transform="rotate(0 321.0 496.8)" fill="#161616" stroke="#161616" stroke-width="0.48"/>
<path d="M319.6 498.3 L322.4 498.3 L322.4 501.2 L319.6 501.2 Z" fill="white" stroke="#161616" stroke-width="1.32" />
<path d="M315 505 Q315 501.2 321 501.2 Q327 501.2 327 505 L327 513.5 L315 513.5 Z" fill="white" stroke="#161616" stroke-width="1.68" />
<path d="M314.6 513.5 L327.4 513.5 L327.4 516.5 L325.6 518.6 L316.4 518.6 L314.6 516.5 Z" fill="white" stroke="#161616" stroke-width="1.56" />
<path d="M318 505.5 V512.8 M321 505.5 V512.8 M324 505.5 V512.8" fill="none" stroke="#161616" stroke-width="1.20" />
<path d="M398.4 469.5 Q398.0 467.0 399.8 465.2 L400.2 464.8 Q402.0 463.0 404.5 462.8 L409.5 462.2 Q412.0 462.0 414.3 462.9 L417.7 464.1 Q420.0 465.0 422.4 465.6 L437.6 469.4 Q440.0 470.0 442.5 469.5 L453.5 467.5 Q456.0 467.0 457.8 465.2 L463.2 459.8 Q465.0 458.0 467.4 457.5 L471.6 456.5 Q474.0 456.0 476.4 456.6 L491.6 460.4 Q494.0 461.0 495.9 462.6 L498.1 464.4 Q500.0 466.0 500.0 468.5 L500.0 470.5 Q500.0 473.0 498.7 475.1 L495.3 480.9 Q494.0 483.0 492.1 484.6 L487.9 488.4 Q486.0 490.0 483.5 490.4 L458.5 494.6 Q456.0 495.0 453.5 495.0 L432.5 495.0 Q430.0 495.0 427.6 494.2 L412.4 488.8 Q410.0 488.0 408.1 486.3 L401.9 480.7 Q400.0 479.0 399.6 476.5 Z" fill="white" stroke="#161616" stroke-width="2.28" />
<path d="M401 469 Q405 466 412 466 L419 468.5 M400.5 478 Q404 484 412 485.5 L430 490.5 L456 490.5 L485 485.5 Q494 481 497.5 472" fill="none" stroke="#161616" stroke-width="1.56" />
<path d="M404 486 L414 490.5 L430 493.5 L456 493.5 L486 488.5" fill="none" stroke="#161616" stroke-width="1.44" />
<path d="M440 470 L446 475.5 L474 477.5 L494 470.5 L500 466 M446 475.5 L443 492 M456 467 L461 471.5 L476 472.5 L489 466" fill="none" stroke="#161616" stroke-width="1.20" />
<path d="M465.0 458.0 L474.0 456.0 L494.0 461.0 L489.0 466.0 L476.0 472.5 L461.0 471.5 L456.0 467.0 Z" fill="white" stroke="#161616" stroke-width="1.32" />
<path d="M469.0 461.0 L477.0 459.5 L486.0 462.0 L477.0 464.5 Z" fill="#161616" stroke="#161616" stroke-width="0.48" />
<path d="M466.0 466.5 L474.0 465.5 L481.0 467.5 L473.0 470.0 Z" fill="#161616" stroke="#161616" stroke-width="0.48" />
<path d="M474 456 L470 466 M486 459 L481 467.5" fill="none" stroke="#161616" stroke-width="1.08" />
<path d="M459 478 L454 491 M462 478 L457.5 491 M466 479 L467 490 M469 479 L470 489.5 M473 478 L474 488.5" fill="none" stroke="#161616" stroke-width="1.20" />
<path d="M448.0 472.5 L474.0 474.5 L473.0 477.5 L449.0 476.0 Z" fill="white" stroke="#161616" stroke-width="1.08" />
<path d="M414 491.5 L414.5 494 L420 495.5 M427 496 L427.5 498.5 L433 498.5 M480 491.5 L480.5 494 L485 493" fill="none" stroke="#161616" stroke-width="1.56" />
<path d="M420.5 462 Q416.5 472 417 480 Q420.5 489.5 429 491 Q437.5 489.5 440 480 Q440.5 471 438 462 Z" fill="white" stroke="#161616" stroke-width="2.04" />
<ellipse cx="429.2" cy="461.5" rx="9.0" ry="6.2" transform="rotate(0 429.2 461.5)" fill="white" stroke="#161616" stroke-width="2.04"/>
<path d="M419.5 471 Q429 477.5 439 471 M418.5 475.5 Q429 482 439.5 475.5 M418 480 Q429 486 439.5 480" fill="none" stroke="#161616" stroke-width="1.56" />
<ellipse cx="452.0" cy="505.6" rx="2.8" ry="1.7" transform="rotate(0 452.0 505.6)" fill="#161616" stroke="#161616" stroke-width="0.48"/>
<ellipse cx="464.0" cy="509.6" rx="2.8" ry="1.7" transform="rotate(0 464.0 509.6)" fill="#161616" stroke="#161616" stroke-width="0.48"/>
<ellipse cx="472.0" cy="504.0" rx="2.8" ry="1.7" transform="rotate(0 472.0 504.0)" fill="#161616" stroke="#161616" stroke-width="0.48"/>
<line x1="452.0" y1="510.5" x2="452.0" y2="516.0" stroke="#161616" stroke-width="2.0" />
<ellipse cx="452.0" cy="517.0" rx="2.8" ry="2.5" transform="rotate(0 452.0 517.0)" fill="#161616" stroke="#161616" stroke-width="0.48"/>
<line x1="464.0" y1="520.5" x2="464.0" y2="526.0" stroke="#161616" stroke-width="2.0" />
<ellipse cx="464.0" cy="527.0" rx="2.8" ry="2.5" transform="rotate(0 464.0 527.0)" fill="#161616" stroke="#161616" stroke-width="0.48"/>
<line x1="472.0" y1="507.5" x2="472.0" y2="513.0" stroke="#161616" stroke-width="2.0" />
<ellipse cx="472.0" cy="514.0" rx="2.8" ry="2.5" transform="rotate(0 472.0 514.0)" fill="#161616" stroke="#161616" stroke-width="0.48"/>
<path d="M.8 2.2L3.2 0L3.2 8" transform="translate(406.28 52.60) skewX(-17) translate(0.00 0) scale(0.76 0.85)" fill="none" stroke="#262626" stroke-width="1.0" vector-effect="non-scaling-stroke"/>
<path d="M.2 2C.2 .7 1.2 0 2.5 0C3.9 0 4.8 .8 4.8 2.1C4.8 3.4 3.8 4.3 2.5 5.5L0 8L5 8" transform="translate(457.28 100.60) skewX(-17) translate(0.00 0) scale(0.76 0.85)" fill="none" stroke="#262626" stroke-width="1.0" vector-effect="non-scaling-stroke"/>
<path d="M.3 1.4C.8 .5 1.6 0 2.6 0C3.9 0 4.7 .8 4.7 2C4.7 3.2 3.8 3.9 2.4 3.9C3.9 3.9 5 4.6 5 5.9C5 7.2 4 8 2.6 8C1.4 8 .5 7.5 0 6.5" transform="translate(463.28 129.60) skewX(-17) translate(0.00 0) scale(0.76 0.85)" fill="none" stroke="#262626" stroke-width="1.0" vector-effect="non-scaling-stroke"/>
<path d="M3.4 0L0 5.7L5 5.7M3.9 3.4L3.9 8" transform="translate(356.28 140.60) skewX(-17) translate(0.00 0) scale(0.76 0.85)" fill="none" stroke="#262626" stroke-width="1.0" vector-effect="non-scaling-stroke"/>
<path d="M4.6 0L.8 0L.4 3.6C1 3.1 1.7 2.9 2.5 2.9C4 2.9 5 3.9 5 5.4C5 7 4 8 2.5 8C1.4 8 .5 7.5 0 6.6" transform="translate(416.28 170.60) skewX(-17) translate(0.00 0) scale(0.76 0.85)" fill="none" stroke="#262626" stroke-width="1.0" vector-effect="non-scaling-stroke"/>
<path d="M4.5 .8C4 .3 3.4 0 2.7 0C1 0 0 1.6 0 4.4C0 6.8 .9 8 2.5 8C4 8 5 7 5 5.5C5 4 4 3.1 2.6 3.1C1.3 3.1 .3 4 0 5" transform="translate(301.28 185.60) skewX(-17) translate(0.00 0) scale(0.76 0.85)" fill="none" stroke="#262626" stroke-width="1.0" vector-effect="non-scaling-stroke"/>
<path d="M0 0L5 0L2 8" transform="translate(414.28 206.60) skewX(-17) translate(0.00 0) scale(0.76 0.85)" fill="none" stroke="#262626" stroke-width="1.0" vector-effect="non-scaling-stroke"/>
<path d="M2.5 3.8C1.2 3.8 .4 3 .4 1.9C.4 .8 1.2 0 2.5 0C3.8 0 4.6 .8 4.6 1.9C4.6 3 3.8 3.8 2.5 3.8C1 3.8 0 4.7 0 5.9C0 7.1 1 8 2.5 8C4 8 5 7.1 5 5.9C5 4.7 4 3.8 2.5 3.8Z" transform="translate(414.28 231.60) skewX(-17) translate(0.00 0) scale(0.76 0.85)" fill="none" stroke="#262626" stroke-width="1.0" vector-effect="non-scaling-stroke"/>
<path d="M5 3C4.7 4 3.7 4.9 2.4 4.9C1 4.9 0 3.9 0 2.5C0 1 1 0 2.5 0C4.1 0 5 1.2 5 3.6C5 6.4 4 8 2.3 8C1.6 8 1 7.7 .5 7.2" transform="translate(415.28 246.60) skewX(-17) translate(0.00 0) scale(0.76 0.85)" fill="none" stroke="#262626" stroke-width="1.0" vector-effect="non-scaling-stroke"/>
<path d="M.8 2.2L3.2 0L3.2 8" transform="translate(411.88 263.60) skewX(-17) translate(0.00 0) scale(0.76 0.85)" fill="none" stroke="#262626" stroke-width="1.0" vector-effect="non-scaling-stroke"/>
<path d="M2.5 0C.6 0 0 2 0 4C0 6 .6 8 2.5 8C4.4 8 5 6 5 4C5 2 4.4 0 2.5 0Z" transform="translate(411.88 263.60) skewX(-17) translate(4.80 0) scale(0.76 0.85)" fill="none" stroke="#262626" stroke-width="1.0" vector-effect="non-scaling-stroke"/>
<path d="M.8 2.2L3.2 0L3.2 8" transform="translate(412.88 274.60) skewX(-17) translate(0.00 0) scale(0.76 0.85)" fill="none" stroke="#262626" stroke-width="1.0" vector-effect="non-scaling-stroke"/>
<path d="M.8 2.2L3.2 0L3.2 8" transform="translate(412.88 274.60) skewX(-17) translate(4.80 0) scale(0.76 0.85)" fill="none" stroke="#262626" stroke-width="1.0" vector-effect="non-scaling-stroke"/>
<path d="M.8 2.2L3.2 0L3.2 8" transform="translate(411.88 287.60) skewX(-17) translate(0.00 0) scale(0.76 0.85)" fill="none" stroke="#262626" stroke-width="1.0" vector-effect="non-scaling-stroke"/>
<path d="M.2 2C.2 .7 1.2 0 2.5 0C3.9 0 4.8 .8 4.8 2.1C4.8 3.4 3.8 4.3 2.5 5.5L0 8L5 8" transform="translate(411.88 287.60) skewX(-17) translate(4.80 0) scale(0.76 0.85)" fill="none" stroke="#262626" stroke-width="1.0" vector-effect="non-scaling-stroke"/>
<path d="M.8 2.2L3.2 0L3.2 8" transform="translate(402.88 303.60) skewX(-17) translate(0.00 0) scale(0.76 0.85)" fill="none" stroke="#262626" stroke-width="1.0" vector-effect="non-scaling-stroke"/>
<path d="M.3 1.4C.8 .5 1.6 0 2.6 0C3.9 0 4.7 .8 4.7 2C4.7 3.2 3.8 3.9 2.4 3.9C3.9 3.9 5 4.6 5 5.9C5 7.2 4 8 2.6 8C1.4 8 .5 7.5 0 6.5" transform="translate(402.88 303.60) skewX(-17) translate(4.80 0) scale(0.76 0.85)" fill="none" stroke="#262626" stroke-width="1.0" vector-effect="non-scaling-stroke"/>
<path d="M.8 2.2L3.2 0L3.2 8" transform="translate(423.88 305.60) skewX(-17) translate(0.00 0) scale(0.76 0.85)" fill="none" stroke="#262626" stroke-width="1.0" vector-effect="non-scaling-stroke"/>
<path d="M3.4 0L0 5.7L5 5.7M3.9 3.4L3.9 8" transform="translate(423.88 305.60) skewX(-17) translate(4.80 0) scale(0.76 0.85)" fill="none" stroke="#262626" stroke-width="1.0" vector-effect="non-scaling-stroke"/>
<path d="M.8 2.2L3.2 0L3.2 8" transform="translate(438.88 316.60) skewX(-17) translate(0.00 0) scale(0.76 0.85)" fill="none" stroke="#262626" stroke-width="1.0" vector-effect="non-scaling-stroke"/>
<path d="M4.6 0L.8 0L.4 3.6C1 3.1 1.7 2.9 2.5 2.9C4 2.9 5 3.9 5 5.4C5 7 4 8 2.5 8C1.4 8 .5 7.5 0 6.6" transform="translate(438.88 316.60) skewX(-17) translate(4.80 0) scale(0.76 0.85)" fill="none" stroke="#262626" stroke-width="1.0" vector-effect="non-scaling-stroke"/>
<path d="M.8 2.2L3.2 0L3.2 8" transform="translate(271.88 332.60) skewX(-17) translate(0.00 0) scale(0.76 0.85)" fill="none" stroke="#262626" stroke-width="1.0" vector-effect="non-scaling-stroke"/>
<path d="M4.6 0L.8 0L.4 3.6C1 3.1 1.7 2.9 2.5 2.9C4 2.9 5 3.9 5 5.4C5 7 4 8 2.5 8C1.4 8 .5 7.5 0 6.6" transform="translate(271.88 332.60) skewX(-17) translate(4.80 0) scale(0.76 0.85)" fill="none" stroke="#262626" stroke-width="1.0" vector-effect="non-scaling-stroke"/>
<path d="M.8 2.2L3.2 0L3.2 8" transform="translate(454.88 326.60) skewX(-17) translate(0.00 0) scale(0.76 0.85)" fill="none" stroke="#262626" stroke-width="1.0" vector-effect="non-scaling-stroke"/>
<path d="M4.5 .8C4 .3 3.4 0 2.7 0C1 0 0 1.6 0 4.4C0 6.8 .9 8 2.5 8C4 8 5 7 5 5.5C5 4 4 3.1 2.6 3.1C1.3 3.1 .3 4 0 5" transform="translate(454.88 326.60) skewX(-17) translate(4.80 0) scale(0.76 0.85)" fill="none" stroke="#262626" stroke-width="1.0" vector-effect="non-scaling-stroke"/>
<path d="M.8 2.2L3.2 0L3.2 8" transform="translate(179.88 278.60) skewX(-17) translate(0.00 0) scale(0.76 0.85)" fill="none" stroke="#262626" stroke-width="1.0" vector-effect="non-scaling-stroke"/>
<path d="M4.5 .8C4 .3 3.4 0 2.7 0C1 0 0 1.6 0 4.4C0 6.8 .9 8 2.5 8C4 8 5 7 5 5.5C5 4 4 3.1 2.6 3.1C1.3 3.1 .3 4 0 5" transform="translate(179.88 278.60) skewX(-17) translate(4.80 0) scale(0.76 0.85)" fill="none" stroke="#262626" stroke-width="1.0" vector-effect="non-scaling-stroke"/>
<path d="M.8 2.2L3.2 0L3.2 8" transform="translate(466.88 334.60) skewX(-17) translate(0.00 0) scale(0.76 0.85)" fill="none" stroke="#262626" stroke-width="1.0" vector-effect="non-scaling-stroke"/>
<path d="M0 0L5 0L2 8" transform="translate(466.88 334.60) skewX(-17) translate(4.80 0) scale(0.76 0.85)" fill="none" stroke="#262626" stroke-width="1.0" vector-effect="non-scaling-stroke"/>
<path d="M.8 2.2L3.2 0L3.2 8" transform="translate(192.88 283.60) skewX(-17) translate(0.00 0) scale(0.76 0.85)" fill="none" stroke="#262626" stroke-width="1.0" vector-effect="non-scaling-stroke"/>
<path d="M0 0L5 0L2 8" transform="translate(192.88 283.60) skewX(-17) translate(4.80 0) scale(0.76 0.85)" fill="none" stroke="#262626" stroke-width="1.0" vector-effect="non-scaling-stroke"/>
<path d="M.8 2.2L3.2 0L3.2 8" transform="translate(494.88 352.60) skewX(-17) translate(0.00 0) scale(0.76 0.85)" fill="none" stroke="#262626" stroke-width="1.0" vector-effect="non-scaling-stroke"/>
<path d="M2.5 3.8C1.2 3.8 .4 3 .4 1.9C.4 .8 1.2 0 2.5 0C3.8 0 4.6 .8 4.6 1.9C4.6 3 3.8 3.8 2.5 3.8C1 3.8 0 4.7 0 5.9C0 7.1 1 8 2.5 8C4 8 5 7.1 5 5.9C5 4.7 4 3.8 2.5 3.8Z" transform="translate(494.88 352.60) skewX(-17) translate(4.80 0) scale(0.76 0.85)" fill="none" stroke="#262626" stroke-width="1.0" vector-effect="non-scaling-stroke"/>
<path d="M.8 2.2L3.2 0L3.2 8" transform="translate(519.88 365.60) skewX(-17) translate(0.00 0) scale(0.76 0.85)" fill="none" stroke="#262626" stroke-width="1.0" vector-effect="non-scaling-stroke"/>
<path d="M5 3C4.7 4 3.7 4.9 2.4 4.9C1 4.9 0 3.9 0 2.5C0 1 1 0 2.5 0C4.1 0 5 1.2 5 3.6C5 6.4 4 8 2.3 8C1.6 8 1 7.7 .5 7.2" transform="translate(519.88 365.60) skewX(-17) translate(4.80 0) scale(0.76 0.85)" fill="none" stroke="#262626" stroke-width="1.0" vector-effect="non-scaling-stroke"/>
<path d="M.2 2C.2 .7 1.2 0 2.5 0C3.9 0 4.8 .8 4.8 2.1C4.8 3.4 3.8 4.3 2.5 5.5L0 8L5 8" transform="translate(559.88 389.60) skewX(-17) translate(0.00 0) scale(0.76 0.85)" fill="none" stroke="#262626" stroke-width="1.0" vector-effect="non-scaling-stroke"/>
<path d="M2.5 0C.6 0 0 2 0 4C0 6 .6 8 2.5 8C4.4 8 5 6 5 4C5 2 4.4 0 2.5 0Z" transform="translate(559.88 389.60) skewX(-17) translate(4.80 0) scale(0.76 0.85)" fill="none" stroke="#262626" stroke-width="1.0" vector-effect="non-scaling-stroke"/>
<path d="M.2 2C.2 .7 1.2 0 2.5 0C3.9 0 4.8 .8 4.8 2.1C4.8 3.4 3.8 4.3 2.5 5.5L0 8L5 8" transform="translate(579.88 403.60) skewX(-17) translate(0.00 0) scale(0.76 0.85)" fill="none" stroke="#262626" stroke-width="1.0" vector-effect="non-scaling-stroke"/>
<path d="M.8 2.2L3.2 0L3.2 8" transform="translate(579.88 403.60) skewX(-17) translate(4.80 0) scale(0.76 0.85)" fill="none" stroke="#262626" stroke-width="1.0" vector-effect="non-scaling-stroke"/>
<path d="M.2 2C.2 .7 1.2 0 2.5 0C3.9 0 4.8 .8 4.8 2.1C4.8 3.4 3.8 4.3 2.5 5.5L0 8L5 8" transform="translate(290.88 197.60) skewX(-17) translate(0.00 0) scale(0.76 0.85)" fill="none" stroke="#262626" stroke-width="1.0" vector-effect="non-scaling-stroke"/>
<path d="M.8 2.2L3.2 0L3.2 8" transform="translate(290.88 197.60) skewX(-17) translate(4.80 0) scale(0.76 0.85)" fill="none" stroke="#262626" stroke-width="1.0" vector-effect="non-scaling-stroke"/>
<path d="M.2 2C.2 .7 1.2 0 2.5 0C3.9 0 4.8 .8 4.8 2.1C4.8 3.4 3.8 4.3 2.5 5.5L0 8L5 8" transform="translate(352.88 283.60) skewX(-17) translate(0.00 0) scale(0.76 0.85)" fill="none" stroke="#262626" stroke-width="1.0" vector-effect="non-scaling-stroke"/>
<path d="M.2 2C.2 .7 1.2 0 2.5 0C3.9 0 4.8 .8 4.8 2.1C4.8 3.4 3.8 4.3 2.5 5.5L0 8L5 8" transform="translate(352.88 283.60) skewX(-17) translate(4.80 0) scale(0.76 0.85)" fill="none" stroke="#262626" stroke-width="1.0" vector-effect="non-scaling-stroke"/>
<path d="M.2 2C.2 .7 1.2 0 2.5 0C3.9 0 4.8 .8 4.8 2.1C4.8 3.4 3.8 4.3 2.5 5.5L0 8L5 8" transform="translate(247.88 319.60) skewX(-17) translate(0.00 0) scale(0.76 0.85)" fill="none" stroke="#262626" stroke-width="1.0" vector-effect="non-scaling-stroke"/>
<path d="M.3 1.4C.8 .5 1.6 0 2.6 0C3.9 0 4.7 .8 4.7 2C4.7 3.2 3.8 3.9 2.4 3.9C3.9 3.9 5 4.6 5 5.9C5 7.2 4 8 2.6 8C1.4 8 .5 7.5 0 6.5" transform="translate(247.88 319.60) skewX(-17) translate(4.80 0) scale(0.76 0.85)" fill="none" stroke="#262626" stroke-width="1.0" vector-effect="non-scaling-stroke"/>
<path d="M.2 2C.2 .7 1.2 0 2.5 0C3.9 0 4.8 .8 4.8 2.1C4.8 3.4 3.8 4.3 2.5 5.5L0 8L5 8" transform="translate(215.88 296.60) skewX(-17) translate(0.00 0) scale(0.76 0.85)" fill="none" stroke="#262626" stroke-width="1.0" vector-effect="non-scaling-stroke"/>
<path d="M3.4 0L0 5.7L5 5.7M3.9 3.4L3.9 8" transform="translate(215.88 296.60) skewX(-17) translate(4.80 0) scale(0.76 0.85)" fill="none" stroke="#262626" stroke-width="1.0" vector-effect="non-scaling-stroke"/>
<path d="M.2 2C.2 .7 1.2 0 2.5 0C3.9 0 4.8 .8 4.8 2.1C4.8 3.4 3.8 4.3 2.5 5.5L0 8L5 8" transform="translate(158.88 265.60) skewX(-17) translate(0.00 0) scale(0.76 0.85)" fill="none" stroke="#262626" stroke-width="1.0" vector-effect="non-scaling-stroke"/>
<path d="M4.6 0L.8 0L.4 3.6C1 3.1 1.7 2.9 2.5 2.9C4 2.9 5 3.9 5 5.4C5 7 4 8 2.5 8C1.4 8 .5 7.5 0 6.6" transform="translate(158.88 265.60) skewX(-17) translate(4.80 0) scale(0.76 0.85)" fill="none" stroke="#262626" stroke-width="1.0" vector-effect="non-scaling-stroke"/>
<path d="M.2 2C.2 .7 1.2 0 2.5 0C3.9 0 4.8 .8 4.8 2.1C4.8 3.4 3.8 4.3 2.5 5.5L0 8L5 8" transform="translate(143.88 254.60) skewX(-17) translate(0.00 0) scale(0.76 0.85)" fill="none" stroke="#262626" stroke-width="1.0" vector-effect="non-scaling-stroke"/>
<path d="M4.5 .8C4 .3 3.4 0 2.7 0C1 0 0 1.6 0 4.4C0 6.8 .9 8 2.5 8C4 8 5 7 5 5.5C5 4 4 3.1 2.6 3.1C1.3 3.1 .3 4 0 5" transform="translate(143.88 254.60) skewX(-17) translate(4.80 0) scale(0.76 0.85)" fill="none" stroke="#262626" stroke-width="1.0" vector-effect="non-scaling-stroke"/>
<path d="M.2 2C.2 .7 1.2 0 2.5 0C3.9 0 4.8 .8 4.8 2.1C4.8 3.4 3.8 4.3 2.5 5.5L0 8L5 8" transform="translate(107.88 236.60) skewX(-17) translate(0.00 0) scale(0.76 0.85)" fill="none" stroke="#262626" stroke-width="1.0" vector-effect="non-scaling-stroke"/>
<path d="M0 0L5 0L2 8" transform="translate(107.88 236.60) skewX(-17) translate(4.80 0) scale(0.76 0.85)" fill="none" stroke="#262626" stroke-width="1.0" vector-effect="non-scaling-stroke"/>
<path d="M.2 2C.2 .7 1.2 0 2.5 0C3.9 0 4.8 .8 4.8 2.1C4.8 3.4 3.8 4.3 2.5 5.5L0 8L5 8" transform="translate(90.88 227.60) skewX(-17) translate(0.00 0) scale(0.76 0.85)" fill="none" stroke="#262626" stroke-width="1.0" vector-effect="non-scaling-stroke"/>
<path d="M2.5 3.8C1.2 3.8 .4 3 .4 1.9C.4 .8 1.2 0 2.5 0C3.8 0 4.6 .8 4.6 1.9C4.6 3 3.8 3.8 2.5 3.8C1 3.8 0 4.7 0 5.9C0 7.1 1 8 2.5 8C4 8 5 7.1 5 5.9C5 4.7 4 3.8 2.5 3.8Z" transform="translate(90.88 227.60) skewX(-17) translate(4.80 0) scale(0.76 0.85)" fill="none" stroke="#262626" stroke-width="1.0" vector-effect="non-scaling-stroke"/>
<path d="M.2 2C.2 .7 1.2 0 2.5 0C3.9 0 4.8 .8 4.8 2.1C4.8 3.4 3.8 4.3 2.5 5.5L0 8L5 8" transform="translate(76.88 217.60) skewX(-17) translate(0.00 0) scale(0.76 0.85)" fill="none" stroke="#262626" stroke-width="1.0" vector-effect="non-scaling-stroke"/>
<path d="M5 3C4.7 4 3.7 4.9 2.4 4.9C1 4.9 0 3.9 0 2.5C0 1 1 0 2.5 0C4.1 0 5 1.2 5 3.6C5 6.4 4 8 2.3 8C1.6 8 1 7.7 .5 7.2" transform="translate(76.88 217.60) skewX(-17) translate(4.80 0) scale(0.76 0.85)" fill="none" stroke="#262626" stroke-width="1.0" vector-effect="non-scaling-stroke"/>
<path d="M.3 1.4C.8 .5 1.6 0 2.6 0C3.9 0 4.7 .8 4.7 2C4.7 3.2 3.8 3.9 2.4 3.9C3.9 3.9 5 4.6 5 5.9C5 7.2 4 8 2.6 8C1.4 8 .5 7.5 0 6.5" transform="translate(65.88 210.60) skewX(-17) translate(0.00 0) scale(0.76 0.85)" fill="none" stroke="#262626" stroke-width="1.0" vector-effect="non-scaling-stroke"/>
<path d="M2.5 0C.6 0 0 2 0 4C0 6 .6 8 2.5 8C4.4 8 5 6 5 4C5 2 4.4 0 2.5 0Z" transform="translate(65.88 210.60) skewX(-17) translate(4.80 0) scale(0.76 0.85)" fill="none" stroke="#262626" stroke-width="1.0" vector-effect="non-scaling-stroke"/>
<path d="M.3 1.4C.8 .5 1.6 0 2.6 0C3.9 0 4.7 .8 4.7 2C4.7 3.2 3.8 3.9 2.4 3.9C3.9 3.9 5 4.6 5 5.9C5 7.2 4 8 2.6 8C1.4 8 .5 7.5 0 6.5" transform="translate(52.88 202.60) skewX(-17) translate(0.00 0) scale(0.76 0.85)" fill="none" stroke="#262626" stroke-width="1.0" vector-effect="non-scaling-stroke"/>
<path d="M.8 2.2L3.2 0L3.2 8" transform="translate(52.88 202.60) skewX(-17) translate(4.80 0) scale(0.76 0.85)" fill="none" stroke="#262626" stroke-width="1.0" vector-effect="non-scaling-stroke"/>
<path d="M.3 1.4C.8 .5 1.6 0 2.6 0C3.9 0 4.7 .8 4.7 2C4.7 3.2 3.8 3.9 2.4 3.9C3.9 3.9 5 4.6 5 5.9C5 7.2 4 8 2.6 8C1.4 8 .5 7.5 0 6.5" transform="translate(21.88 185.60) skewX(-17) translate(0.00 0) scale(0.76 0.85)" fill="none" stroke="#262626" stroke-width="1.0" vector-effect="non-scaling-stroke"/>
<path d="M.2 2C.2 .7 1.2 0 2.5 0C3.9 0 4.8 .8 4.8 2.1C4.8 3.4 3.8 4.3 2.5 5.5L0 8L5 8" transform="translate(21.88 185.60) skewX(-17) translate(4.80 0) scale(0.76 0.85)" fill="none" stroke="#262626" stroke-width="1.0" vector-effect="non-scaling-stroke"/>
<path d="M.3 1.4C.8 .5 1.6 0 2.6 0C3.9 0 4.7 .8 4.7 2C4.7 3.2 3.8 3.9 2.4 3.9C3.9 3.9 5 4.6 5 5.9C5 7.2 4 8 2.6 8C1.4 8 .5 7.5 0 6.5" transform="translate(280.88 209.60) skewX(-17) translate(0.00 0) scale(0.76 0.85)" fill="none" stroke="#262626" stroke-width="1.0" vector-effect="non-scaling-stroke"/>
<path d="M.3 1.4C.8 .5 1.6 0 2.6 0C3.9 0 4.7 .8 4.7 2C4.7 3.2 3.8 3.9 2.4 3.9C3.9 3.9 5 4.6 5 5.9C5 7.2 4 8 2.6 8C1.4 8 .5 7.5 0 6.5" transform="translate(280.88 209.60) skewX(-17) translate(4.80 0) scale(0.76 0.85)" fill="none" stroke="#262626" stroke-width="1.0" vector-effect="non-scaling-stroke"/>
<path d="M.3 1.4C.8 .5 1.6 0 2.6 0C3.9 0 4.7 .8 4.7 2C4.7 3.2 3.8 3.9 2.4 3.9C3.9 3.9 5 4.6 5 5.9C5 7.2 4 8 2.6 8C1.4 8 .5 7.5 0 6.5" transform="translate(283.88 186.60) skewX(-17) translate(0.00 0) scale(0.76 0.85)" fill="none" stroke="#262626" stroke-width="1.0" vector-effect="non-scaling-stroke"/>
<path d="M3.4 0L0 5.7L5 5.7M3.9 3.4L3.9 8" transform="translate(283.88 186.60) skewX(-17) translate(4.80 0) scale(0.76 0.85)" fill="none" stroke="#262626" stroke-width="1.0" vector-effect="non-scaling-stroke"/>
<path d="M.3 1.4C.8 .5 1.6 0 2.6 0C3.9 0 4.7 .8 4.7 2C4.7 3.2 3.8 3.9 2.4 3.9C3.9 3.9 5 4.6 5 5.9C5 7.2 4 8 2.6 8C1.4 8 .5 7.5 0 6.5" transform="translate(272.88 178.60) skewX(-17) translate(0.00 0) scale(0.76 0.85)" fill="none" stroke="#262626" stroke-width="1.0" vector-effect="non-scaling-stroke"/>
<path d="M4.6 0L.8 0L.4 3.6C1 3.1 1.7 2.9 2.5 2.9C4 2.9 5 3.9 5 5.4C5 7 4 8 2.5 8C1.4 8 .5 7.5 0 6.6" transform="translate(272.88 178.60) skewX(-17) translate(4.80 0) scale(0.76 0.85)" fill="none" stroke="#262626" stroke-width="1.0" vector-effect="non-scaling-stroke"/>
<path d="M.3 1.4C.8 .5 1.6 0 2.6 0C3.9 0 4.7 .8 4.7 2C4.7 3.2 3.8 3.9 2.4 3.9C3.9 3.9 5 4.6 5 5.9C5 7.2 4 8 2.6 8C1.4 8 .5 7.5 0 6.5" transform="translate(260.88 170.60) skewX(-17) translate(0.00 0) scale(0.76 0.85)" fill="none" stroke="#262626" stroke-width="1.0" vector-effect="non-scaling-stroke"/>
<path d="M4.5 .8C4 .3 3.4 0 2.7 0C1 0 0 1.6 0 4.4C0 6.8 .9 8 2.5 8C4 8 5 7 5 5.5C5 4 4 3.1 2.6 3.1C1.3 3.1 .3 4 0 5" transform="translate(260.88 170.60) skewX(-17) translate(4.80 0) scale(0.76 0.85)" fill="none" stroke="#262626" stroke-width="1.0" vector-effect="non-scaling-stroke"/>
<path d="M.3 1.4C.8 .5 1.6 0 2.6 0C3.9 0 4.7 .8 4.7 2C4.7 3.2 3.8 3.9 2.4 3.9C3.9 3.9 5 4.6 5 5.9C5 7.2 4 8 2.6 8C1.4 8 .5 7.5 0 6.5" transform="translate(248.88 163.60) skewX(-17) translate(0.00 0) scale(0.76 0.85)" fill="none" stroke="#262626" stroke-width="1.0" vector-effect="non-scaling-stroke"/>
<path d="M0 0L5 0L2 8" transform="translate(248.88 163.60) skewX(-17) translate(4.80 0) scale(0.76 0.85)" fill="none" stroke="#262626" stroke-width="1.0" vector-effect="non-scaling-stroke"/>
<path d="M.3 1.4C.8 .5 1.6 0 2.6 0C3.9 0 4.7 .8 4.7 2C4.7 3.2 3.8 3.9 2.4 3.9C3.9 3.9 5 4.6 5 5.9C5 7.2 4 8 2.6 8C1.4 8 .5 7.5 0 6.5" transform="translate(311.88 71.60) skewX(-17) translate(0.00 0) scale(0.76 0.85)" fill="none" stroke="#262626" stroke-width="1.0" vector-effect="non-scaling-stroke"/>
<path d="M2.5 3.8C1.2 3.8 .4 3 .4 1.9C.4 .8 1.2 0 2.5 0C3.8 0 4.6 .8 4.6 1.9C4.6 3 3.8 3.8 2.5 3.8C1 3.8 0 4.7 0 5.9C0 7.1 1 8 2.5 8C4 8 5 7.1 5 5.9C5 4.7 4 3.8 2.5 3.8Z" transform="translate(311.88 71.60) skewX(-17) translate(4.80 0) scale(0.76 0.85)" fill="none" stroke="#262626" stroke-width="1.0" vector-effect="non-scaling-stroke"/>
<path d="M.3 1.4C.8 .5 1.6 0 2.6 0C3.9 0 4.7 .8 4.7 2C4.7 3.2 3.8 3.9 2.4 3.9C3.9 3.9 5 4.6 5 5.9C5 7.2 4 8 2.6 8C1.4 8 .5 7.5 0 6.5" transform="translate(342.88 141.60) skewX(-17) translate(0.00 0) scale(0.76 0.85)" fill="none" stroke="#262626" stroke-width="1.0" vector-effect="non-scaling-stroke"/>
<path d="M5 3C4.7 4 3.7 4.9 2.4 4.9C1 4.9 0 3.9 0 2.5C0 1 1 0 2.5 0C4.1 0 5 1.2 5 3.6C5 6.4 4 8 2.3 8C1.6 8 1 7.7 .5 7.2" transform="translate(342.88 141.60) skewX(-17) translate(4.80 0) scale(0.76 0.85)" fill="none" stroke="#262626" stroke-width="1.0" vector-effect="non-scaling-stroke"/>
<path d="M3.4 0L0 5.7L5 5.7M3.9 3.4L3.9 8" transform="translate(489.88 287.60) skewX(-17) translate(0.00 0) scale(0.76 0.85)" fill="none" stroke="#262626" stroke-width="1.0" vector-effect="non-scaling-stroke"/>
<path d="M2.5 0C.6 0 0 2 0 4C0 6 .6 8 2.5 8C4.4 8 5 6 5 4C5 2 4.4 0 2.5 0Z" transform="translate(489.88 287.60) skewX(-17) translate(4.80 0) scale(0.76 0.85)" fill="none" stroke="#262626" stroke-width="1.0" vector-effect="non-scaling-stroke"/>
<path d="M3.4 0L0 5.7L5 5.7M3.9 3.4L3.9 8" transform="translate(527.88 264.60) skewX(-17) translate(0.00 0) scale(0.76 0.85)" fill="none" stroke="#262626" stroke-width="1.0" vector-effect="non-scaling-stroke"/>
<path d="M.8 2.2L3.2 0L3.2 8" transform="translate(527.88 264.60) skewX(-17) translate(4.80 0) scale(0.76 0.85)" fill="none" stroke="#262626" stroke-width="1.0" vector-effect="non-scaling-stroke"/>
<path d="M3.4 0L0 5.7L5 5.7M3.9 3.4L3.9 8" transform="translate(548.88 254.60) skewX(-17) translate(0.00 0) scale(0.76 0.85)" fill="none" stroke="#262626" stroke-width="1.0" vector-effect="non-scaling-stroke"/>
<path d="M.2 2C.2 .7 1.2 0 2.5 0C3.9 0 4.8 .8 4.8 2.1C4.8 3.4 3.8 4.3 2.5 5.5L0 8L5 8" transform="translate(548.88 254.60) skewX(-17) translate(4.80 0) scale(0.76 0.85)" fill="none" stroke="#262626" stroke-width="1.0" vector-effect="non-scaling-stroke"/>
<path d="M3.4 0L0 5.7L5 5.7M3.9 3.4L3.9 8" transform="translate(117.88 243.60) skewX(-17) translate(0.00 0) scale(0.76 0.85)" fill="none" stroke="#262626" stroke-width="1.0" vector-effect="non-scaling-stroke"/>
<path d="M.2 2C.2 .7 1.2 0 2.5 0C3.9 0 4.8 .8 4.8 2.1C4.8 3.4 3.8 4.3 2.5 5.5L0 8L5 8" transform="translate(117.88 243.60) skewX(-17) translate(4.80 0) scale(0.76 0.85)" fill="none" stroke="#262626" stroke-width="1.0" vector-effect="non-scaling-stroke"/>
<path d="M3.4 0L0 5.7L5 5.7M3.9 3.4L3.9 8" transform="translate(561.88 244.60) skewX(-17) translate(0.00 0) scale(0.76 0.85)" fill="none" stroke="#262626" stroke-width="1.0" vector-effect="non-scaling-stroke"/>
<path d="M.3 1.4C.8 .5 1.6 0 2.6 0C3.9 0 4.7 .8 4.7 2C4.7 3.2 3.8 3.9 2.4 3.9C3.9 3.9 5 4.6 5 5.9C5 7.2 4 8 2.6 8C1.4 8 .5 7.5 0 6.5" transform="translate(561.88 244.60) skewX(-17) translate(4.80 0) scale(0.76 0.85)" fill="none" stroke="#262626" stroke-width="1.0" vector-effect="non-scaling-stroke"/>
<path d="M3.4 0L0 5.7L5 5.7M3.9 3.4L3.9 8" transform="translate(127.88 248.60) skewX(-17) translate(0.00 0) scale(0.76 0.85)" fill="none" stroke="#262626" stroke-width="1.0" vector-effect="non-scaling-stroke"/>
<path d="M.3 1.4C.8 .5 1.6 0 2.6 0C3.9 0 4.7 .8 4.7 2C4.7 3.2 3.8 3.9 2.4 3.9C3.9 3.9 5 4.6 5 5.9C5 7.2 4 8 2.6 8C1.4 8 .5 7.5 0 6.5" transform="translate(127.88 248.60) skewX(-17) translate(4.80 0) scale(0.76 0.85)" fill="none" stroke="#262626" stroke-width="1.0" vector-effect="non-scaling-stroke"/>
<path d="M3.4 0L0 5.7L5 5.7M3.9 3.4L3.9 8" transform="translate(581.88 232.60) skewX(-17) translate(0.00 0) scale(0.76 0.85)" fill="none" stroke="#262626" stroke-width="1.0" vector-effect="non-scaling-stroke"/>
<path d="M3.4 0L0 5.7L5 5.7M3.9 3.4L3.9 8" transform="translate(581.88 232.60) skewX(-17) translate(4.80 0) scale(0.76 0.85)" fill="none" stroke="#262626" stroke-width="1.0" vector-effect="non-scaling-stroke"/>
<path d="M3.4 0L0 5.7L5 5.7M3.9 3.4L3.9 8" transform="translate(368.88 353.60) skewX(-17) translate(0.00 0) scale(0.76 0.85)" fill="none" stroke="#262626" stroke-width="1.0" vector-effect="non-scaling-stroke"/>
<path d="M4.6 0L.8 0L.4 3.6C1 3.1 1.7 2.9 2.5 2.9C4 2.9 5 3.9 5 5.4C5 7 4 8 2.5 8C1.4 8 .5 7.5 0 6.6" transform="translate(368.88 353.60) skewX(-17) translate(4.80 0) scale(0.76 0.85)" fill="none" stroke="#262626" stroke-width="1.0" vector-effect="non-scaling-stroke"/>
<path d="M3.4 0L0 5.7L5 5.7M3.9 3.4L3.9 8" transform="translate(352.88 363.60) skewX(-17) translate(0.00 0) scale(0.76 0.85)" fill="none" stroke="#262626" stroke-width="1.0" vector-effect="non-scaling-stroke"/>
<path d="M4.5 .8C4 .3 3.4 0 2.7 0C1 0 0 1.6 0 4.4C0 6.8 .9 8 2.5 8C4 8 5 7 5 5.5C5 4 4 3.1 2.6 3.1C1.3 3.1 .3 4 0 5" transform="translate(352.88 363.60) skewX(-17) translate(4.80 0) scale(0.76 0.85)" fill="none" stroke="#262626" stroke-width="1.0" vector-effect="non-scaling-stroke"/>
<path d="M3.4 0L0 5.7L5 5.7M3.9 3.4L3.9 8" transform="translate(337.88 375.60) skewX(-17) translate(0.00 0) scale(0.76 0.85)" fill="none" stroke="#262626" stroke-width="1.0" vector-effect="non-scaling-stroke"/>
<path d="M0 0L5 0L2 8" transform="translate(337.88 375.60) skewX(-17) translate(4.80 0) scale(0.76 0.85)" fill="none" stroke="#262626" stroke-width="1.0" vector-effect="non-scaling-stroke"/>
<path d="M3.4 0L0 5.7L5 5.7M3.9 3.4L3.9 8" transform="translate(5.88 175.60) skewX(-17) translate(0.00 0) scale(0.76 0.85)" fill="none" stroke="#262626" stroke-width="1.0" vector-effect="non-scaling-stroke"/>
<path d="M0 0L5 0L2 8" transform="translate(5.88 175.60) skewX(-17) translate(4.80 0) scale(0.76 0.85)" fill="none" stroke="#262626" stroke-width="1.0" vector-effect="non-scaling-stroke"/>
<path d="M3.4 0L0 5.7L5 5.7M3.9 3.4L3.9 8" transform="translate(326.88 383.60) skewX(-17) translate(0.00 0) scale(0.76 0.85)" fill="none" stroke="#262626" stroke-width="1.0" vector-effect="non-scaling-stroke"/>
<path d="M2.5 3.8C1.2 3.8 .4 3 .4 1.9C.4 .8 1.2 0 2.5 0C3.8 0 4.6 .8 4.6 1.9C4.6 3 3.8 3.8 2.5 3.8C1 3.8 0 4.7 0 5.9C0 7.1 1 8 2.5 8C4 8 5 7.1 5 5.9C5 4.7 4 3.8 2.5 3.8Z" transform="translate(326.88 383.60) skewX(-17) translate(4.80 0) scale(0.76 0.85)" fill="none" stroke="#262626" stroke-width="1.0" vector-effect="non-scaling-stroke"/>
<path d="M3.4 0L0 5.7L5 5.7M3.9 3.4L3.9 8" transform="translate(220.88 343.60) skewX(-17) translate(0.00 0) scale(0.76 0.85)" fill="none" stroke="#262626" stroke-width="1.0" vector-effect="non-scaling-stroke"/>
<path d="M5 3C4.7 4 3.7 4.9 2.4 4.9C1 4.9 0 3.9 0 2.5C0 1 1 0 2.5 0C4.1 0 5 1.2 5 3.6C5 6.4 4 8 2.3 8C1.6 8 1 7.7 .5 7.2" transform="translate(220.88 343.60) skewX(-17) translate(4.80 0) scale(0.76 0.85)" fill="none" stroke="#262626" stroke-width="1.0" vector-effect="non-scaling-stroke"/>
<path d="M4.6 0L.8 0L.4 3.6C1 3.1 1.7 2.9 2.5 2.9C4 2.9 5 3.9 5 5.4C5 7 4 8 2.5 8C1.4 8 .5 7.5 0 6.6" transform="translate(163.88 377.60) skewX(-17) translate(0.00 0) scale(0.76 0.85)" fill="none" stroke="#262626" stroke-width="1.0" vector-effect="non-scaling-stroke"/>
<path d="M2.5 0C.6 0 0 2 0 4C0 6 .6 8 2.5 8C4.4 8 5 6 5 4C5 2 4.4 0 2.5 0Z" transform="translate(163.88 377.60) skewX(-17) translate(4.80 0) scale(0.76 0.85)" fill="none" stroke="#262626" stroke-width="1.0" vector-effect="non-scaling-stroke"/>
<path d="M4.6 0L.8 0L.4 3.6C1 3.1 1.7 2.9 2.5 2.9C4 2.9 5 3.9 5 5.4C5 7 4 8 2.5 8C1.4 8 .5 7.5 0 6.6" transform="translate(135.88 396.60) skewX(-17) translate(0.00 0) scale(0.76 0.85)" fill="none" stroke="#262626" stroke-width="1.0" vector-effect="non-scaling-stroke"/>
<path d="M.8 2.2L3.2 0L3.2 8" transform="translate(135.88 396.60) skewX(-17) translate(4.80 0) scale(0.76 0.85)" fill="none" stroke="#262626" stroke-width="1.0" vector-effect="non-scaling-stroke"/>
<path d="M4.6 0L.8 0L.4 3.6C1 3.1 1.7 2.9 2.5 2.9C4 2.9 5 3.9 5 5.4C5 7 4 8 2.5 8C1.4 8 .5 7.5 0 6.6" transform="translate(120.88 404.60) skewX(-17) translate(0.00 0) scale(0.76 0.85)" fill="none" stroke="#262626" stroke-width="1.0" vector-effect="non-scaling-stroke"/>
<path d="M.2 2C.2 .7 1.2 0 2.5 0C3.9 0 4.8 .8 4.8 2.1C4.8 3.4 3.8 4.3 2.5 5.5L0 8L5 8" transform="translate(120.88 404.60) skewX(-17) translate(4.80 0) scale(0.76 0.85)" fill="none" stroke="#262626" stroke-width="1.0" vector-effect="non-scaling-stroke"/>
<path d="M4.6 0L.8 0L.4 3.6C1 3.1 1.7 2.9 2.5 2.9C4 2.9 5 3.9 5 5.4C5 7 4 8 2.5 8C1.4 8 .5 7.5 0 6.6" transform="translate(76.88 430.60) skewX(-17) translate(0.00 0) scale(0.76 0.85)" fill="none" stroke="#262626" stroke-width="1.0" vector-effect="non-scaling-stroke"/>
<path d="M.3 1.4C.8 .5 1.6 0 2.6 0C3.9 0 4.7 .8 4.7 2C4.7 3.2 3.8 3.9 2.4 3.9C3.9 3.9 5 4.6 5 5.9C5 7.2 4 8 2.6 8C1.4 8 .5 7.5 0 6.5" transform="translate(76.88 430.60) skewX(-17) translate(4.80 0) scale(0.76 0.85)" fill="none" stroke="#262626" stroke-width="1.0" vector-effect="non-scaling-stroke"/>
<path d="M4.6 0L.8 0L.4 3.6C1 3.1 1.7 2.9 2.5 2.9C4 2.9 5 3.9 5 5.4C5 7 4 8 2.5 8C1.4 8 .5 7.5 0 6.6" transform="translate(31.88 455.60) skewX(-17) translate(0.00 0) scale(0.76 0.85)" fill="none" stroke="#262626" stroke-width="1.0" vector-effect="non-scaling-stroke"/>
<path d="M3.4 0L0 5.7L5 5.7M3.9 3.4L3.9 8" transform="translate(31.88 455.60) skewX(-17) translate(4.80 0) scale(0.76 0.85)" fill="none" stroke="#262626" stroke-width="1.0" vector-effect="non-scaling-stroke"/>
<path d="M4.6 0L.8 0L.4 3.6C1 3.1 1.7 2.9 2.5 2.9C4 2.9 5 3.9 5 5.4C5 7 4 8 2.5 8C1.4 8 .5 7.5 0 6.6" transform="translate(398.88 394.60) skewX(-17) translate(0.00 0) scale(0.76 0.85)" fill="none" stroke="#262626" stroke-width="1.0" vector-effect="non-scaling-stroke"/>
<path d="M4.6 0L.8 0L.4 3.6C1 3.1 1.7 2.9 2.5 2.9C4 2.9 5 3.9 5 5.4C5 7 4 8 2.5 8C1.4 8 .5 7.5 0 6.6" transform="translate(398.88 394.60) skewX(-17) translate(4.80 0) scale(0.76 0.85)" fill="none" stroke="#262626" stroke-width="1.0" vector-effect="non-scaling-stroke"/>
<path d="M4.6 0L.8 0L.4 3.6C1 3.1 1.7 2.9 2.5 2.9C4 2.9 5 3.9 5 5.4C5 7 4 8 2.5 8C1.4 8 .5 7.5 0 6.6" transform="translate(364.88 444.60) skewX(-17) translate(0.00 0) scale(0.76 0.85)" fill="none" stroke="#262626" stroke-width="1.0" vector-effect="non-scaling-stroke"/>
<path d="M4.5 .8C4 .3 3.4 0 2.7 0C1 0 0 1.6 0 4.4C0 6.8 .9 8 2.5 8C4 8 5 7 5 5.5C5 4 4 3.1 2.6 3.1C1.3 3.1 .3 4 0 5" transform="translate(364.88 444.60) skewX(-17) translate(4.80 0) scale(0.76 0.85)" fill="none" stroke="#262626" stroke-width="1.0" vector-effect="non-scaling-stroke"/>
<path d="M4.6 0L.8 0L.4 3.6C1 3.1 1.7 2.9 2.5 2.9C4 2.9 5 3.9 5 5.4C5 7 4 8 2.5 8C1.4 8 .5 7.5 0 6.6" transform="translate(364.88 480.60) skewX(-17) translate(0.00 0) scale(0.76 0.85)" fill="none" stroke="#262626" stroke-width="1.0" vector-effect="non-scaling-stroke"/>
<path d="M0 0L5 0L2 8" transform="translate(364.88 480.60) skewX(-17) translate(4.80 0) scale(0.76 0.85)" fill="none" stroke="#262626" stroke-width="1.0" vector-effect="non-scaling-stroke"/>
<path d="M4.6 0L.8 0L.4 3.6C1 3.1 1.7 2.9 2.5 2.9C4 2.9 5 3.9 5 5.4C5 7 4 8 2.5 8C1.4 8 .5 7.5 0 6.6" transform="translate(361.88 523.60) skewX(-17) translate(0.00 0) scale(0.76 0.85)" fill="none" stroke="#262626" stroke-width="1.0" vector-effect="non-scaling-stroke"/>
<path d="M2.5 3.8C1.2 3.8 .4 3 .4 1.9C.4 .8 1.2 0 2.5 0C3.8 0 4.6 .8 4.6 1.9C4.6 3 3.8 3.8 2.5 3.8C1 3.8 0 4.7 0 5.9C0 7.1 1 8 2.5 8C4 8 5 7.1 5 5.9C5 4.7 4 3.8 2.5 3.8Z" transform="translate(361.88 523.60) skewX(-17) translate(4.80 0) scale(0.76 0.85)" fill="none" stroke="#262626" stroke-width="1.0" vector-effect="non-scaling-stroke"/>
<path d="M4.6 0L.8 0L.4 3.6C1 3.1 1.7 2.9 2.5 2.9C4 2.9 5 3.9 5 5.4C5 7 4 8 2.5 8C1.4 8 .5 7.5 0 6.6" transform="translate(531.88 542.60) skewX(-17) translate(0.00 0) scale(0.76 0.85)" fill="none" stroke="#262626" stroke-width="1.0" vector-effect="non-scaling-stroke"/>
<path d="M5 3C4.7 4 3.7 4.9 2.4 4.9C1 4.9 0 3.9 0 2.5C0 1 1 0 2.5 0C4.1 0 5 1.2 5 3.6C5 6.4 4 8 2.3 8C1.6 8 1 7.7 .5 7.2" transform="translate(531.88 542.60) skewX(-17) translate(4.80 0) scale(0.76 0.85)" fill="none" stroke="#262626" stroke-width="1.0" vector-effect="non-scaling-stroke"/>
<path d="M4.5 .8C4 .3 3.4 0 2.7 0C1 0 0 1.6 0 4.4C0 6.8 .9 8 2.5 8C4 8 5 7 5 5.5C5 4 4 3.1 2.6 3.1C1.3 3.1 .3 4 0 5" transform="translate(531.88 530.60) skewX(-17) translate(0.00 0) scale(0.76 0.85)" fill="none" stroke="#262626" stroke-width="1.0" vector-effect="non-scaling-stroke"/>
<path d="M2.5 0C.6 0 0 2 0 4C0 6 .6 8 2.5 8C4.4 8 5 6 5 4C5 2 4.4 0 2.5 0Z" transform="translate(531.88 530.60) skewX(-17) translate(4.80 0) scale(0.76 0.85)" fill="none" stroke="#262626" stroke-width="1.0" vector-effect="non-scaling-stroke"/>
<path d="M4.5 .8C4 .3 3.4 0 2.7 0C1 0 0 1.6 0 4.4C0 6.8 .9 8 2.5 8C4 8 5 7 5 5.5C5 4 4 3.1 2.6 3.1C1.3 3.1 .3 4 0 5" transform="translate(530.88 510.60) skewX(-17) translate(0.00 0) scale(0.76 0.85)" fill="none" stroke="#262626" stroke-width="1.0" vector-effect="non-scaling-stroke"/>
<path d="M.8 2.2L3.2 0L3.2 8" transform="translate(530.88 510.60) skewX(-17) translate(4.80 0) scale(0.76 0.85)" fill="none" stroke="#262626" stroke-width="1.0" vector-effect="non-scaling-stroke"/>
<line x1="402.0" y1="56.0" x2="391.0" y2="58.5" stroke="#161616" stroke-width="0.85" />
<line x1="450.0" y1="103.5" x2="433.0" y2="103.5" stroke="#161616" stroke-width="0.85" />
<line x1="458.0" y1="134.0" x2="455.0" y2="137.0" stroke="#161616" stroke-width="0.85" />
<line x1="361.0" y1="146.0" x2="368.0" y2="152.0" stroke="#161616" stroke-width="0.85" />
<line x1="412.0" y1="177.0" x2="394.0" y2="187.0" stroke="#161616" stroke-width="0.85" />
<line x1="307.0" y1="191.0" x2="322.0" y2="198.0" stroke="#161616" stroke-width="0.85" />
<line x1="411.0" y1="212.0" x2="390.0" y2="226.0" stroke="#161616" stroke-width="0.85" />
<line x1="410.0" y1="237.0" x2="382.0" y2="250.0" stroke="#161616" stroke-width="0.85" />
<line x1="411.0" y1="252.0" x2="380.0" y2="268.0" stroke="#161616" stroke-width="0.85" />
<line x1="408.0" y1="269.0" x2="390.0" y2="280.0" stroke="#161616" stroke-width="0.85" />
<line x1="409.0" y1="279.0" x2="403.0" y2="284.0" stroke="#161616" stroke-width="0.85" />
<line x1="409.0" y1="292.0" x2="411.0" y2="294.0" stroke="#161616" stroke-width="0.85" />
<line x1="355.5" y1="292.0" x2="357.5" y2="304.0" stroke="#161616" stroke-width="0.85" />
<line x1="358.0" y1="292.0" x2="358.5" y2="304.0" stroke="#161616" stroke-width="0.85" />
<line x1="400.0" y1="306.0" x2="388.0" y2="300.0" stroke="#161616" stroke-width="0.85" />
<line x1="421.0" y1="311.0" x2="393.0" y2="331.0" stroke="#161616" stroke-width="0.85" />
<line x1="436.0" y1="322.0" x2="412.0" y2="340.0" stroke="#161616" stroke-width="0.85" />
<line x1="452.0" y1="332.0" x2="428.0" y2="350.0" stroke="#161616" stroke-width="0.85" />
<line x1="464.0" y1="340.0" x2="446.0" y2="350.0" stroke="#161616" stroke-width="0.85" />
<line x1="492.0" y1="358.0" x2="472.0" y2="372.0" stroke="#161616" stroke-width="0.85" />
<line x1="517.0" y1="371.0" x2="495.0" y2="388.0" stroke="#161616" stroke-width="0.85" />
<line x1="557.0" y1="396.0" x2="540.0" y2="408.0" stroke="#161616" stroke-width="0.85" />
<line x1="577.0" y1="410.0" x2="551.0" y2="425.0" stroke="#161616" stroke-width="0.85" />
<line x1="281.0" y1="338.0" x2="326.0" y2="304.0" stroke="#161616" stroke-width="0.85" />
<line x1="257.0" y1="321.0" x2="308.0" y2="290.0" stroke="#161616" stroke-width="0.85" />
<line x1="225.0" y1="296.0" x2="244.0" y2="282.5" stroke="#161616" stroke-width="0.85" />
<line x1="168.0" y1="263.0" x2="213.0" y2="234.0" stroke="#161616" stroke-width="0.85" />
<line x1="153.0" y1="252.0" x2="178.0" y2="237.0" stroke="#161616" stroke-width="0.85" />
<line x1="116.0" y1="234.0" x2="155.0" y2="198.0" stroke="#161616" stroke-width="0.85" />
<line x1="99.0" y1="226.0" x2="139.0" y2="201.0" stroke="#161616" stroke-width="0.85" />
<line x1="86.0" y1="216.0" x2="126.0" y2="192.0" stroke="#161616" stroke-width="0.85" />
<line x1="74.0" y1="209.0" x2="114.0" y2="185.0" stroke="#161616" stroke-width="0.85" />
<line x1="61.0" y1="202.0" x2="101.0" y2="179.0" stroke="#161616" stroke-width="0.85" />
<line x1="30.0" y1="185.0" x2="49.0" y2="174.0" stroke="#161616" stroke-width="0.85" />
<line x1="15.0" y1="175.0" x2="31.0" y2="166.0" stroke="#161616" stroke-width="0.85" />
<line x1="126.0" y1="241.0" x2="163.0" y2="202.0" stroke="#161616" stroke-width="0.85" />
<line x1="137.0" y1="246.0" x2="171.0" y2="206.0" stroke="#161616" stroke-width="0.85" />
<line x1="189.0" y1="277.0" x2="241.0" y2="247.5" stroke="#161616" stroke-width="0.85" />
<line x1="202.0" y1="283.5" x2="222.0" y2="267.5" stroke="#161616" stroke-width="0.85" />
<line x1="290.0" y1="214.0" x2="300.0" y2="226.0" stroke="#161616" stroke-width="0.85" />
<line x1="300.0" y1="203.0" x2="333.0" y2="228.0" stroke="#161616" stroke-width="0.85" />
<line x1="293.0" y1="186.0" x2="340.0" y2="162.0" stroke="#161616" stroke-width="0.85" />
<line x1="282.0" y1="179.0" x2="330.0" y2="157.0" stroke="#161616" stroke-width="0.85" />
<line x1="269.0" y1="170.0" x2="297.0" y2="153.0" stroke="#161616" stroke-width="0.85" />
<line x1="257.0" y1="163.0" x2="277.0" y2="150.0" stroke="#161616" stroke-width="0.85" />
<line x1="317.0" y1="80.0" x2="322.0" y2="94.0" stroke="#161616" stroke-width="0.85" />
<line x1="340.0" y1="143.0" x2="334.0" y2="139.0" stroke="#161616" stroke-width="0.85" />
<line x1="487.0" y1="288.0" x2="447.0" y2="268.0" stroke="#161616" stroke-width="0.85" />
<line x1="524.0" y1="265.0" x2="503.0" y2="252.0" stroke="#161616" stroke-width="0.85" />
<line x1="546.0" y1="254.0" x2="512.0" y2="226.0" stroke="#161616" stroke-width="0.85" />
<line x1="559.0" y1="244.0" x2="521.0" y2="221.0" stroke="#161616" stroke-width="0.85" />
<line x1="578.0" y1="231.0" x2="546.0" y2="207.0" stroke="#161616" stroke-width="0.85" />
<line x1="366.0" y1="354.0" x2="357.0" y2="347.0" stroke="#161616" stroke-width="0.85" />
<line x1="350.0" y1="364.0" x2="333.0" y2="352.0" stroke="#161616" stroke-width="0.85" />
<line x1="335.0" y1="376.0" x2="318.0" y2="362.0" stroke="#161616" stroke-width="0.85" />
<line x1="324.0" y1="384.0" x2="309.0" y2="372.0" stroke="#161616" stroke-width="0.85" />
<line x1="231.0" y1="349.0" x2="268.0" y2="372.0" stroke="#161616" stroke-width="0.85" />
<line x1="173.0" y1="383.0" x2="191.0" y2="394.0" stroke="#161616" stroke-width="0.85" />
<line x1="145.0" y1="402.0" x2="187.0" y2="429.0" stroke="#161616" stroke-width="0.85" />
<line x1="130.0" y1="410.0" x2="159.0" y2="432.0" stroke="#161616" stroke-width="0.85" />
<line x1="86.0" y1="436.0" x2="128.0" y2="468.0" stroke="#161616" stroke-width="0.85" />
<line x1="41.0" y1="461.0" x2="93.0" y2="490.0" stroke="#161616" stroke-width="0.85" />
<line x1="396.0" y1="398.0" x2="364.0" y2="404.0" stroke="#161616" stroke-width="0.85" />
<line x1="361.0" y1="446.0" x2="327.0" y2="428.0" stroke="#161616" stroke-width="0.85" />
<line x1="361.0" y1="482.0" x2="328.0" y2="463.0" stroke="#161616" stroke-width="0.85" />
<line x1="358.0" y1="525.0" x2="329.0" y2="509.0" stroke="#161616" stroke-width="0.85" />
<line x1="528.0" y1="544.0" x2="474.0" y2="519.0" stroke="#161616" stroke-width="0.85" />
<line x1="528.0" y1="532.0" x2="474.0" y2="507.0" stroke="#161616" stroke-width="0.85" />
<line x1="527.0" y1="512.0" x2="487.0" y2="491.0" stroke="#161616" stroke-width="0.85" />
</svg>
</body></html>
